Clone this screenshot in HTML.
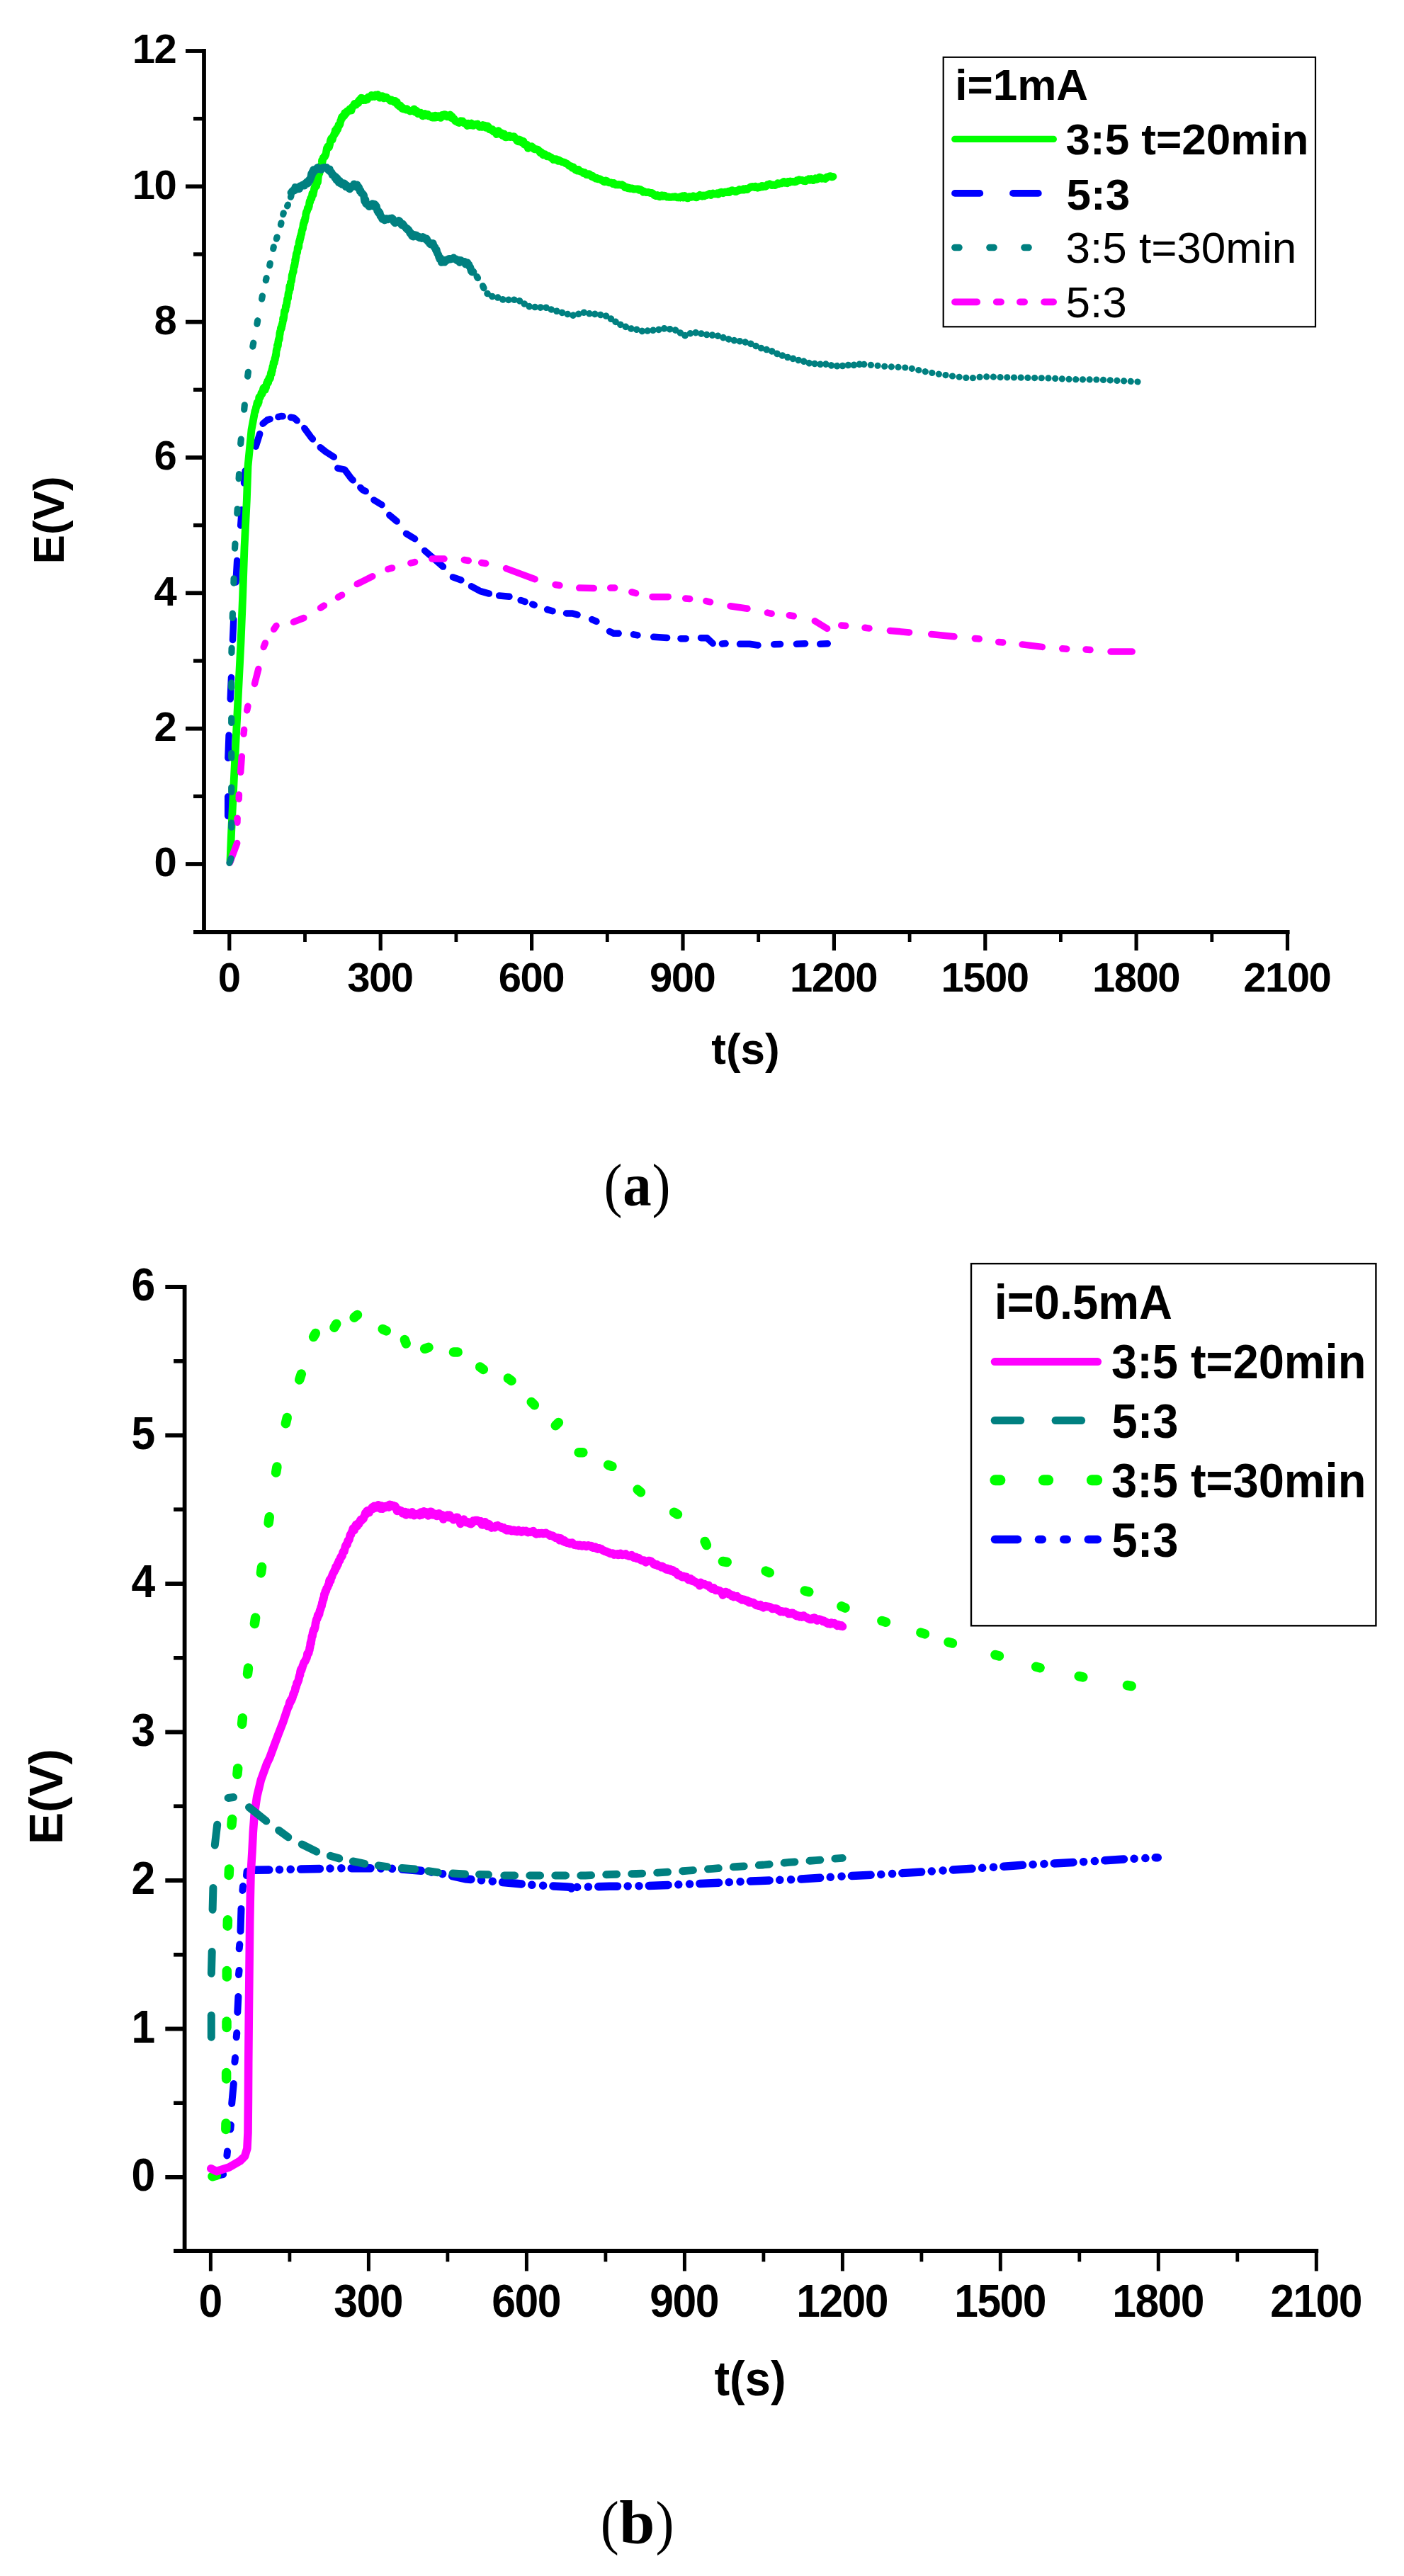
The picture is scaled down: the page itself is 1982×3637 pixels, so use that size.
<!DOCTYPE html>
<html><head><meta charset="utf-8"><title>E(V) vs t(s)</title>
<style>html,body{margin:0;padding:0;background:#fff}svg{display:block}</style></head>
<body>
<svg width="1982" height="3637" viewBox="0 0 1982 3637">
<rect width="1982" height="3637" fill="#fff"/>
<g id="chart-a">
<g id="curves-a">
<line x1="321.7" y1="1152" x2="321.7" y2="1124.8" stroke="#0000ff" stroke-width="9.5" stroke-linecap="round"/>
<line x1="321.9" y1="1070.3" x2="323.1" y2="1038" stroke="#0000ff" stroke-width="9.5" stroke-linecap="round"/>
<line x1="325.2" y1="987" x2="326.5" y2="956.4" stroke="#0000ff" stroke-width="9.5" stroke-linecap="round"/>
<line x1="328.5" y1="903.6" x2="329.8" y2="874.7" stroke="#0000ff" stroke-width="9.5" stroke-linecap="round"/>
<line x1="333" y1="822" x2="334.7" y2="791.4" stroke="#0000ff" stroke-width="9.5" stroke-linecap="round"/>
<line x1="339.7" y1="742" x2="341.3" y2="719.7" stroke="#0000ff" stroke-width="9.5" stroke-linecap="round"/>
<line x1="344.5" y1="682" x2="346.2" y2="664.7" stroke="#0000ff" stroke-width="9.5" stroke-linecap="round"/>
<line x1="361.1" y1="630.3" x2="366.7" y2="612.5" stroke="#0000ff" stroke-width="9.5" stroke-linecap="round"/>
<path d="M371.1 598.2 L377.4 592.9 L381.2 591.8" fill="none" stroke="#0000ff" stroke-width="9.5" stroke-linecap="round" stroke-linejoin="round"/>
<path d="M392.9 588.6 L396.8 587.5 L399.2 587.8" fill="none" stroke="#0000ff" stroke-width="9.5" stroke-linecap="round" stroke-linejoin="round"/>
<path d="M410.4 589.3 L414.8 589.9 L419.2 593.8" fill="none" stroke="#0000ff" stroke-width="9.5" stroke-linecap="round" stroke-linejoin="round"/>
<path d="M429.8 604.6 L438.7 616.8 L441.4 619.9" fill="none" stroke="#0000ff" stroke-width="9.5" stroke-linecap="round" stroke-linejoin="round"/>
<path d="M452.2 631.8 L459.7 637.8 L471.4 645.2" fill="none" stroke="#0000ff" stroke-width="9.5" stroke-linecap="round" stroke-linejoin="round"/>
<path d="M476.8 661.1 L486.6 663.2 L495.5 675.2 L498.2 677.9" fill="none" stroke="#0000ff" stroke-width="9.5" stroke-linecap="round" stroke-linejoin="round"/>
<path d="M508.8 688.4 L512 691.6 L516.2 693.6" fill="none" stroke="#0000ff" stroke-width="9.5" stroke-linecap="round" stroke-linejoin="round"/>
<path d="M527.9 706 L539 712.8" fill="none" stroke="#0000ff" stroke-width="9.5" stroke-linecap="round" stroke-linejoin="round"/>
<path d="M549.8 727.3 L560.2 736" fill="none" stroke="#0000ff" stroke-width="9.5" stroke-linecap="round" stroke-linejoin="round"/>
<path d="M573.5 753.4 L585.6 760.8" fill="none" stroke="#0000ff" stroke-width="9.5" stroke-linecap="round" stroke-linejoin="round"/>
<path d="M599.6 777.5 L625.5 800.1" fill="none" stroke="#0000ff" stroke-width="9.5" stroke-linecap="round" stroke-linejoin="round"/>
<path d="M639.4 814.9 L650.9 819" fill="none" stroke="#0000ff" stroke-width="9.5" stroke-linecap="round" stroke-linejoin="round"/>
<path d="M665.5 827.8 L678 834.6 L690.4 838.1" fill="none" stroke="#0000ff" stroke-width="9.5" stroke-linecap="round" stroke-linejoin="round"/>
<path d="M704.6 840.9 L719 842.3" fill="none" stroke="#0000ff" stroke-width="9.5" stroke-linecap="round" stroke-linejoin="round"/>
<path d="M735.1 847.6 L741.2 849.6" fill="none" stroke="#0000ff" stroke-width="9.5" stroke-linecap="round" stroke-linejoin="round"/>
<path d="M751.7 853.2 L754.2 854.2" fill="none" stroke="#0000ff" stroke-width="9.5" stroke-linecap="round" stroke-linejoin="round"/>
<path d="M772.6 860.6 L780.1 862.7" fill="none" stroke="#0000ff" stroke-width="9.5" stroke-linecap="round" stroke-linejoin="round"/>
<path d="M799.5 866 L808 866 L815.1 868" fill="none" stroke="#0000ff" stroke-width="9.5" stroke-linecap="round" stroke-linejoin="round"/>
<path d="M835.6 874.6 L842 877.4" fill="none" stroke="#0000ff" stroke-width="9.5" stroke-linecap="round" stroke-linejoin="round"/>
<path d="M860.5 891.4 L866.3 894.3 L873.2 894.3" fill="none" stroke="#0000ff" stroke-width="9.5" stroke-linecap="round" stroke-linejoin="round"/>
<path d="M894.4 895.8 L900 896.9" fill="none" stroke="#0000ff" stroke-width="9.5" stroke-linecap="round" stroke-linejoin="round"/>
<path d="M922.7 899.3 L941.6 900.4" fill="none" stroke="#0000ff" stroke-width="9.5" stroke-linecap="round" stroke-linejoin="round"/>
<path d="M961 901.7 L968.2 901.7" fill="none" stroke="#0000ff" stroke-width="9.5" stroke-linecap="round" stroke-linejoin="round"/>
<path d="M989.5 900.7 L998 900.7 L1006.2 908.4" fill="none" stroke="#0000ff" stroke-width="9.5" stroke-linecap="round" stroke-linejoin="round"/>
<path d="M1019.4 908.9 L1024.1 908.6" fill="none" stroke="#0000ff" stroke-width="9.5" stroke-linecap="round" stroke-linejoin="round"/>
<path d="M1044.5 909.3 L1058 909.3 L1070 911" fill="none" stroke="#0000ff" stroke-width="9.5" stroke-linecap="round" stroke-linejoin="round"/>
<path d="M1092.7 909.8 L1101.6 909.5" fill="none" stroke="#0000ff" stroke-width="9.5" stroke-linecap="round" stroke-linejoin="round"/>
<path d="M1124.4 909.2 L1136.6 908.8" fill="none" stroke="#0000ff" stroke-width="9.5" stroke-linecap="round" stroke-linejoin="round"/>
<path d="M1157.7 909.2 L1168.3 908.8" fill="none" stroke="#0000ff" stroke-width="9.5" stroke-linecap="round" stroke-linejoin="round"/>
<path d="M325 1215 L326.7 1173.3 L330 1106.7 L333.3 1040 L336.7 973.3 L340 906.7 L342.7 840 L345 773.3 L348.3 706.7 L350 658.3 L355 606.7 L360 580 L360.5 580.7 L361 577.9 L361.6 574.3 L362.1 574.4 L362.6 570.7 L363.1 568.4 L363.6 569.8 L364.1 570.9 L364.7 568.6 L365.2 567.8 L365.7 561.3 L366.2 560.2 L366.7 560.1 L367.3 561 L367.8 559.4 L368.3 558 L369 554.7 L369.8 556.4 L370.5 554.7 L371.2 550.8 L372 547.7 L372.7 547.5 L373.4 546.5 L374.2 550.4 L374.9 547.6 L375.6 547.1 L376.4 541.4 L377.1 542.2 L377.8 538 L378.6 540.3 L379.3 535.8 L380 533.4 L380.8 535.3 L381.5 533.8 L381.9 530.5 L382.2 528 L382.6 526.2 L382.9 525.1 L383.3 527.7 L383.6 524.3 L384 521.6 L384.4 523.1 L384.7 518.8 L385.1 517 L385.4 518.3 L385.8 515.3 L386.1 512.3 L386.5 511.1 L386.9 510.4 L387.2 512.3 L387.6 510.1 L387.9 506.3 L388.3 507.8 L388.6 504 L389 504.3 L389.3 500.6 L389.6 502 L389.8 499.1 L390.1 495.2 L390.4 493.9 L390.7 492.6 L391 493 L391.3 490 L391.5 487.4 L391.8 488.1 L392.1 487.7 L392.4 488.2 L392.7 482.8 L393 482.1 L393.2 479.6 L393.5 479.8 L393.8 477.9 L394.1 479.4 L394.4 477.6 L394.7 473.1 L394.9 470 L395.2 471.5 L395.5 467.5 L395.8 467.6 L396.1 465.8 L396.5 462.9 L396.8 464.4 L397.1 464 L397.4 463.2 L397.7 459.7 L398.1 460.3 L398.4 457.1 L398.7 457.3 L399 455.2 L399.3 453.3 L399.7 449 L400 451.4 L400.3 449.8 L400.6 448.4 L400.9 445.4 L401.3 441.5 L401.6 438.9 L401.9 439.4 L402.2 439.8 L402.5 438.5 L402.9 438.2 L403.2 435.3 L403.5 431.8 L403.8 432.1 L404.1 432.5 L404.4 430.5 L404.7 427.6 L405 428.2 L405.3 424.7 L405.6 422.2 L405.9 421.3 L406.2 421.8 L406.5 421.6 L406.8 416.5 L407.1 414.3 L407.4 413.3 L407.7 412.4 L408 413 L408.3 410.2 L408.6 406.1 L408.9 403.8 L409.2 404.7 L409.5 407.7 L409.8 402.8 L410.1 402.9 L410.4 398.4 L410.7 398.4 L411 397.5 L411.3 397.1 L411.6 395.4 L411.9 392.7 L412.2 388.4 L412.5 389.6 L412.8 386.8 L413 387.1 L413.3 385.8 L413.6 383.2 L413.9 384 L414.2 383.5 L414.5 378.2 L414.8 378 L415.1 375.6 L415.4 376.5 L415.7 376.1 L416 373.6 L416.3 372.1 L416.5 370.2 L416.8 366.3 L417.1 368 L417.4 365.3 L417.7 362.3 L418 363.1 L418.3 358.4 L418.6 358.2 L419 356.9 L419.3 357.1 L419.6 356.2 L420 352.5 L420.3 349.3 L420.7 349.1 L421 349.8 L421.3 349.7 L421.7 348.7 L422 343.6 L422.3 341.2 L422.7 341.2 L423 341.3 L423.3 337.7 L423.7 338.2 L424 334.1 L424.3 335.7 L424.7 333.2 L425 331.2 L425.4 329.9 L425.7 330.4 L426 326.7 L426.4 325.2 L426.7 324.5 L427.1 322.4 L427.5 323 L427.9 318.6 L428.3 315.4 L428.7 316.9 L429.1 314.7 L429.5 311.5 L429.9 313.3 L430.3 312.2 L430.7 307.8 L431.1 307.9 L431.5 305.2 L431.9 302 L432.3 300.1 L432.7 299.1 L433.1 299.2 L433.5 297.5 L433.9 296.8 L434.3 293.9 L434.7 294.2 L435.1 294.4 L435.5 293.6 L435.9 291.8 L436.3 291 L436.7 286.7 L437.2 283.8 L437.8 285.4 L438.3 281.7 L438.8 279.5 L439.3 280.9 L439.9 280.2 L440.4 277 L440.9 273 L441.4 274.1 L442 275.1 L442.5 272.1 L443 270.2 L443.5 266.9 L444.1 264.5 L444.6 265 L445.1 264.4 L445.6 261.2 L446.2 262.6 L446.7 262.6 L447.1 257.2 L447.4 256.4 L447.8 254.5 L448.1 253.9 L448.5 257.3 L448.9 253.2 L449.2 250.3 L449.6 248.1 L449.9 245.1 L450.3 242.4 L450.7 244.5 L451 244.7 L451.4 241.4 L451.8 239.8 L452.1 239.9 L452.5 239.5 L452.8 237.8 L453.2 234.3 L453.6 234.6 L453.9 233.2 L454.3 229.8 L454.6 226 L455 228.9 L455.6 225.7 L456.2 222.7 L456.8 223 L457.4 222.2 L457.9 220.3 L458.5 221.2 L459.1 219.1 L459.7 218.9 L460.3 216 L460.9 212.3 L461.5 209 L462.1 208.6 L462.6 207 L463.2 207 L463.8 208.3 L464.4 208.1 L465 206.1 L465.7 203.4 L466.4 198.7 L467.1 196.8 L467.8 195.3 L468.4 196.1 L469.1 197.3 L469.8 194.6 L470.5 192 L471.2 191.6 L471.9 188.7 L472.6 189.6 L473.3 184 L473.9 185.8 L474.6 186.3 L475.3 181.2 L476 183.1 L476.7 182.7 L477.4 179.5 L478 176.3 L478.7 177.9 L479.4 175.2 L480 175.2 L480.7 170.6 L481.4 170 L482 166.8 L482.7 165.1 L483.4 166.5 L484 164.1 L484.7 163.1 L485.4 162.5 L486 163.6 L486.7 159.4 L487.9 161 L489 159.6 L490.2 156.8 L491.3 156.8 L492.5 156.6 L493.7 153.7 L494.8 156.2 L496 156 L497.1 151.2 L498.3 150.8 L499.4 148.3 L500.4 146.5 L501.5 148.4 L502.6 148.1 L503.6 146.5 L504.7 144.5 L505.7 145.7 L506.8 141.7 L507.9 142.3 L508.9 139.6 L510 138.2 L511.4 138.5 L512.9 141.6 L514.3 140.3 L515.7 141.6 L517.1 139 L518.6 140.6 L520 136.8 L521.5 137.3 L522.9 136.2 L524.4 134.4 L525.9 136.6 L527.3 135.2 L528.8 136.5 L530.2 133.8 L531.7 135.6 L533.2 133.5 L534.6 135.3 L536 138.1 L537.5 136.6 L539 135.6 L540.4 135.9 L541.8 138.8 L543.3 137.2 L544.6 137.2 L546 137.7 L547.3 139.1 L548.7 139.9 L550 140.7 L551.3 142.4 L552.7 140.9 L554 142 L555.4 143 L556.7 144.2 L557.9 142.3 L559.1 145.9 L560.3 144.1 L561.5 148.3 L562.7 149 L564 150.4 L565.2 148.9 L566.4 151.7 L567.6 153.3 L568.8 152.2 L570 154.1 L571.5 154 L573 154.9 L574.4 153.8 L575.9 154.9 L577.4 156.1 L578.9 157.1 L580.3 156.3 L581.8 156.5 L583.3 155.2 L584.6 153.9 L586 158.3 L587.3 156 L588.7 157 L590 160.7 L591.3 159 L592.7 160.6 L594 159.2 L595.4 160.6 L596.7 163.9 L598.2 160.8 L599.7 160.5 L601.1 163.1 L602.6 161.6 L604.1 161.5 L605.6 164.1 L607 164.1 L608.5 163.9 L610 166 L611.5 163.8 L613.1 166.2 L614.6 163.1 L616.2 165.8 L617.7 163.8 L619.2 163.7 L620.8 166.1 L622.3 166.3 L623.8 162.5 L625.4 164.1 L626.9 161.7 L628.5 161.6 L630 164.4 L631.4 164.8 L632.8 163.4 L634.2 162.7 L635.6 162 L637 166.6 L638.4 164.6 L639.7 167.5 L641.1 167.7 L642.5 170.6 L643.9 171.5 L645.3 171.9 L646.7 173 L648 173.5 L649.2 172.7 L650.5 170.9 L651.7 171.5 L653 171 L654.2 173.4 L655.5 174.1 L656.7 173.6 L658.2 175 L659.6 177.5 L661.1 174.1 L662.5 176.6 L664 176.8 L665.4 174 L666.9 177.2 L668.4 177.4 L669.8 176.2 L671.3 175.5 L672.7 175.7 L674.2 175.1 L675.6 177.5 L677.1 179.4 L678.5 179 L680 179.4 L681.4 176.5 L682.8 178.6 L684.2 177.1 L685.6 180.3 L687 177.9 L688.4 177.8 L689.7 179.4 L691.1 182.9 L692.5 182.4 L693.9 183.9 L695.3 182.7 L696.7 186 L698.1 184.9 L699.5 186.5 L700.9 189.6 L702.2 185.7 L703.6 184.6 L705 186.8 L706.4 189.6 L707.8 187.6 L709.1 191.3 L710.5 190.1 L711.9 189.1 L713.3 193.6 L714.7 193.9 L716.1 191.6 L717.5 193.3 L718.9 191.3 L720.3 193.5 L721.6 193.2 L723 193.5 L724.4 192.7 L725.8 192.7 L727.2 195.1 L728.6 196.3 L730 198.8 L731.3 199.8 L732.6 197 L733.9 197.4 L735.1 197.7 L736.4 201.3 L737.7 201.6 L739 199.5 L740.3 204.2 L741.6 204.6 L742.9 205.2 L744.1 204.4 L745.4 209.4 L746.7 206.4 L748 206.7 L749.3 207.9 L750.7 206.9 L752 207.9 L753.3 210 L754.7 210.8 L756 210.4 L757.3 210.8 L758.7 211.1 L760 211.8 L761.3 213.3 L762.7 215.8 L764 214.9 L765.3 216.4 L766.7 218.9 L768 217.6 L769.4 217.6 L770.9 219.4 L772.3 220.7 L773.7 219.9 L775.1 220.7 L776.6 222 L778 222.2 L779.4 223.7 L780.9 225.3 L782.3 224.4 L783.7 225.5 L785.1 224.6 L786.6 225.4 L788 227.4 L789.3 226.2 L790.7 227.4 L792 227.6 L793.3 228.7 L794.7 228.6 L796 229.2 L797.3 229.5 L798.7 230.9 L800 231 L801.3 231.9 L802.7 233.4 L804 234.4 L805.3 234.3 L806.7 235.2 L808 237.2 L809.4 236 L810.9 238.2 L812.3 239.9 L813.7 239.2 L815.1 241.2 L816.6 239.4 L818 241.4 L819.4 242.1 L820.9 242.3 L822.3 243.1 L823.7 244.7 L825.1 243.3 L826.6 245.4 L828 246.7 L829.4 246.8 L830.9 245.7 L832.3 245.9 L833.7 247.6 L835.1 249.2 L836.6 248.2 L838 250.5 L839.4 250.6 L840.9 252 L842.3 251.3 L843.7 252.8 L845.1 252.8 L846.6 252.6 L848 253.4 L849.4 254.5 L850.9 255.4 L852.3 256.4 L853.7 256.7 L855.1 255 L856.6 255.4 L858 256.9 L859.4 257.6 L860.9 257.9 L862.3 257.9 L863.7 258.2 L865.1 259.5 L866.6 258.4 L868 260.2 L869.4 260.9 L870.9 260.5 L872.3 261 L873.7 260.4 L875.1 261 L876.6 261.3 L878 260.7 L879.4 261.6 L880.9 262.6 L882.3 264.6 L883.7 264.9 L885.1 264.5 L886.6 265.8 L888 265.3 L889.4 266.4 L890.9 266.2 L892.3 265.9 L893.7 266.9 L895.1 267.1 L896.6 266.8 L898 266.8 L899.4 267.2 L900.9 266.9 L902.3 268.2 L903.7 267.5 L905.1 268.1 L906.6 269.5 L908 271.1 L909.4 270.3 L910.9 271.2 L912.3 271.7 L913.7 271.6 L915.1 271.4 L916.6 271.9 L918 272.5 L919.4 272.3 L920.9 272.7 L922.3 274 L923.7 275.6 L925.1 276.4 L926.6 276.7 L928 275.3 L929.5 276.9 L931.1 277.8 L932.6 276.4 L934.2 275.7 L935.7 277.2 L937.2 276.2 L938.8 276.4 L940.3 277.4 L941.8 278.2 L943.4 277.8 L944.9 278.4 L946.5 278.3 L948 278.3 L949.5 278 L951.1 278.2 L952.6 277.6 L954.2 278 L955.7 278.8 L957.2 279 L958.8 278.3 L960.3 279.1 L961.8 277.5 L963.4 276.8 L964.9 279.2 L966.5 276.5 L968 278 L969.5 279.5 L971.1 279.9 L972.6 277.7 L974.2 277.7 L975.7 278.4 L977.2 277.9 L978.8 276.8 L980.3 277.4 L981.8 278.7 L983.4 278.9 L984.9 277 L986.5 277.1 L988 275.3 L989.5 276 L991.1 277.1 L992.6 275.9 L994.2 276.9 L995.7 276 L997.2 275.9 L998.8 275 L1000.3 274.6 L1001.8 273.6 L1003.4 275.5 L1004.9 274 L1006.5 272.9 L1008 273.9 L1009.4 273.9 L1010.9 273.8 L1012.3 272.8 L1013.7 274.4 L1015.1 273.3 L1016.6 271.8 L1018 271.2 L1019.4 271.3 L1020.9 272.9 L1022.3 271.5 L1023.7 271 L1025.1 271.5 L1026.6 271.6 L1028 270.2 L1029.4 271.7 L1030.9 269.7 L1032.3 269.1 L1033.7 268.6 L1035.1 269.5 L1036.6 269.5 L1038 270.5 L1039.4 270.6 L1040.9 269 L1042.3 269.1 L1043.7 267.5 L1045.1 268.3 L1046.6 268.2 L1048 268.2 L1049.4 266.8 L1050.9 267.9 L1052.3 266.6 L1053.7 267.6 L1055.1 267.6 L1056.6 265.8 L1058 265.4 L1059.4 264 L1060.9 264.1 L1062.3 263.4 L1063.7 263.8 L1065.1 264.5 L1066.6 263.2 L1068 264.7 L1069.5 265.3 L1071.1 263.7 L1072.6 264.6 L1074.2 263.7 L1075.7 262.3 L1077.2 263.7 L1078.8 263.1 L1080.3 263.4 L1081.8 262.8 L1083.4 260.6 L1084.9 260.6 L1086.5 259.7 L1088 260.5 L1089.4 261.6 L1090.9 260.9 L1092.3 261.4 L1093.7 261.6 L1095.1 261.1 L1096.6 260.3 L1098 258.6 L1099.4 259.6 L1100.9 258.9 L1102.3 259 L1103.7 258.8 L1105.1 257.4 L1106.6 256.3 L1108 258.3 L1109.5 257.8 L1111.1 258.6 L1112.6 256.4 L1114.2 257.5 L1115.7 255.9 L1117.2 256.5 L1118.8 256.4 L1120.3 256.7 L1121.8 256.8 L1123.4 256.7 L1124.9 254.8 L1126.5 255.3 L1128 253.8 L1129.5 254.2 L1131.1 254.6 L1132.6 254.5 L1134.2 255.5 L1135.7 255.7 L1137.2 255.8 L1138.8 253.9 L1140.3 254.1 L1141.8 252.7 L1143.4 254.4 L1144.9 252.5 L1146.5 253.6 L1148 254.5 L1149.5 252.9 L1151 251.9 L1152.6 253.4 L1154.1 252.9 L1155.6 251.2 L1157.1 250.1 L1158.6 250.8 L1160.1 252.3 L1161.7 252 L1163.2 252 L1164.7 252.6 L1166.1 251.7 L1167.5 249.8 L1168.9 249.9 L1170.3 249.1 L1171.8 248.6 L1173.2 248.8 L1174.6 249.9 L1176 249.5" fill="none" stroke="#00ff00" stroke-width="10.8" stroke-linecap="round" stroke-linejoin="round"/>
<line x1="324.4" y1="1218" x2="334.7" y2="1190.5" stroke="#ff00ff" stroke-width="9.5" stroke-linecap="round"/>
<line x1="334.9" y1="1161.3" x2="335.1" y2="1155.3" stroke="#ff00ff" stroke-width="9.5" stroke-linecap="round"/>
<line x1="337.2" y1="1128" x2="337.4" y2="1122" stroke="#ff00ff" stroke-width="9.5" stroke-linecap="round"/>
<line x1="339.7" y1="1090.3" x2="341.3" y2="1068" stroke="#ff00ff" stroke-width="9.5" stroke-linecap="round"/>
<line x1="344" y1="1036.3" x2="344.6" y2="1030.3" stroke="#ff00ff" stroke-width="9.5" stroke-linecap="round"/>
<line x1="348.7" y1="1002.9" x2="349.9" y2="997.1" stroke="#ff00ff" stroke-width="9.5" stroke-linecap="round"/>
<line x1="359.5" y1="965.4" x2="364.8" y2="944.6" stroke="#ff00ff" stroke-width="9.5" stroke-linecap="round"/>
<line x1="372.2" y1="913.5" x2="374.4" y2="907.9" stroke="#ff00ff" stroke-width="9.5" stroke-linecap="round"/>
<line x1="386.6" y1="888.4" x2="390" y2="883.6" stroke="#ff00ff" stroke-width="9.5" stroke-linecap="round"/>
<line x1="414.4" y1="878.2" x2="428.9" y2="872.5" stroke="#ff00ff" stroke-width="9.5" stroke-linecap="round"/>
<line x1="452.5" y1="858.3" x2="457.5" y2="855.1" stroke="#ff00ff" stroke-width="9.5" stroke-linecap="round"/>
<line x1="477.4" y1="843.2" x2="482.6" y2="840.2" stroke="#ff00ff" stroke-width="9.5" stroke-linecap="round"/>
<line x1="504.2" y1="824.6" x2="525.8" y2="813.8" stroke="#ff00ff" stroke-width="9.5" stroke-linecap="round"/>
<line x1="547.8" y1="803.5" x2="553.6" y2="801.9" stroke="#ff00ff" stroke-width="9.5" stroke-linecap="round"/>
<line x1="579.8" y1="795" x2="585.6" y2="793.6" stroke="#ff00ff" stroke-width="9.5" stroke-linecap="round"/>
<line x1="609.8" y1="789" x2="627" y2="789" stroke="#ff00ff" stroke-width="9.5" stroke-linecap="round"/>
<line x1="655.3" y1="790.5" x2="661.3" y2="791.5" stroke="#ff00ff" stroke-width="9.5" stroke-linecap="round"/>
<line x1="679.7" y1="794.5" x2="685.7" y2="795.5" stroke="#ff00ff" stroke-width="9.5" stroke-linecap="round"/>
<line x1="714.5" y1="802.6" x2="755.2" y2="817.7" stroke="#ff00ff" stroke-width="9.5" stroke-linecap="round"/>
<line x1="784" y1="825.5" x2="790" y2="826.5" stroke="#ff00ff" stroke-width="9.5" stroke-linecap="round"/>
<line x1="817.7" y1="830.1" x2="838.3" y2="830.6" stroke="#ff00ff" stroke-width="9.5" stroke-linecap="round"/>
<line x1="861.7" y1="830.1" x2="867.7" y2="829.9" stroke="#ff00ff" stroke-width="9.5" stroke-linecap="round"/>
<line x1="891.8" y1="835.9" x2="897.6" y2="837.5" stroke="#ff00ff" stroke-width="9.5" stroke-linecap="round"/>
<line x1="921" y1="842.7" x2="943.2" y2="842.7" stroke="#ff00ff" stroke-width="9.5" stroke-linecap="round"/>
<line x1="967.7" y1="845" x2="973.7" y2="845.6" stroke="#ff00ff" stroke-width="9.5" stroke-linecap="round"/>
<line x1="996.8" y1="848.6" x2="1002.6" y2="850" stroke="#ff00ff" stroke-width="9.5" stroke-linecap="round"/>
<line x1="1031" y1="855.7" x2="1055" y2="859.3" stroke="#ff00ff" stroke-width="9.5" stroke-linecap="round"/>
<line x1="1083.4" y1="865.1" x2="1089.2" y2="866.3" stroke="#ff00ff" stroke-width="9.5" stroke-linecap="round"/>
<line x1="1114.3" y1="868.8" x2="1120.3" y2="869.8" stroke="#ff00ff" stroke-width="9.5" stroke-linecap="round"/>
<line x1="1150.3" y1="876.8" x2="1167.7" y2="887.5" stroke="#ff00ff" stroke-width="9.5" stroke-linecap="round"/>
<line x1="1187.7" y1="883" x2="1193.7" y2="883.6" stroke="#ff00ff" stroke-width="9.5" stroke-linecap="round"/>
<line x1="1221" y1="886.3" x2="1227" y2="887.1" stroke="#ff00ff" stroke-width="9.5" stroke-linecap="round"/>
<line x1="1256.4" y1="890.4" x2="1283.6" y2="892.9" stroke="#ff00ff" stroke-width="9.5" stroke-linecap="round"/>
<line x1="1314.7" y1="895.5" x2="1347" y2="898.8" stroke="#ff00ff" stroke-width="9.5" stroke-linecap="round"/>
<line x1="1376.3" y1="901.4" x2="1382.3" y2="902" stroke="#ff00ff" stroke-width="9.5" stroke-linecap="round"/>
<line x1="1409.7" y1="906.4" x2="1415.7" y2="907" stroke="#ff00ff" stroke-width="9.5" stroke-linecap="round"/>
<line x1="1443" y1="909.9" x2="1471.3" y2="913.4" stroke="#ff00ff" stroke-width="9.5" stroke-linecap="round"/>
<line x1="1499.7" y1="915.8" x2="1505.7" y2="916.2" stroke="#ff00ff" stroke-width="9.5" stroke-linecap="round"/>
<line x1="1533" y1="917" x2="1539" y2="917.6" stroke="#ff00ff" stroke-width="9.5" stroke-linecap="round"/>
<line x1="1568" y1="920" x2="1598.2" y2="920" stroke="#ff00ff" stroke-width="9.5" stroke-linecap="round"/>
<line x1="326.7" y1="1168.2" x2="326.7" y2="1161.8" stroke="#008080" stroke-width="9.2" stroke-linecap="round"/>
<line x1="326.7" y1="1118.2" x2="326.7" y2="1111.8" stroke="#008080" stroke-width="9.2" stroke-linecap="round"/>
<line x1="326.7" y1="1070" x2="326.7" y2="1063.5" stroke="#008080" stroke-width="9.2" stroke-linecap="round"/>
<line x1="326.7" y1="1020.5" x2="326.7" y2="1014" stroke="#008080" stroke-width="9.2" stroke-linecap="round"/>
<line x1="326.7" y1="970.5" x2="326.7" y2="964.1" stroke="#008080" stroke-width="9.2" stroke-linecap="round"/>
<line x1="326.9" y1="921.5" x2="327.1" y2="915.1" stroke="#008080" stroke-width="9.2" stroke-linecap="round"/>
<line x1="328.2" y1="872.5" x2="328.4" y2="866.1" stroke="#008080" stroke-width="9.2" stroke-linecap="round"/>
<line x1="329.9" y1="823.2" x2="330.1" y2="816.8" stroke="#008080" stroke-width="9.2" stroke-linecap="round"/>
<line x1="331.5" y1="774.2" x2="331.9" y2="767.8" stroke="#008080" stroke-width="9.2" stroke-linecap="round"/>
<line x1="334.8" y1="724.9" x2="335.2" y2="718.5" stroke="#008080" stroke-width="9.2" stroke-linecap="round"/>
<line x1="337.1" y1="675.9" x2="337.5" y2="669.5" stroke="#008080" stroke-width="9.2" stroke-linecap="round"/>
<line x1="339.7" y1="626.5" x2="340.3" y2="620.1" stroke="#008080" stroke-width="9.2" stroke-linecap="round"/>
<line x1="344.7" y1="578.2" x2="345.3" y2="571.8" stroke="#008080" stroke-width="9.2" stroke-linecap="round"/>
<line x1="349.6" y1="531.3" x2="350.4" y2="525.3" stroke="#008080" stroke-width="9.2" stroke-linecap="round"/>
<line x1="356.8" y1="489.2" x2="357.8" y2="484.2" stroke="#008080" stroke-width="9.2" stroke-linecap="round"/>
<line x1="362.9" y1="457.3" x2="363.7" y2="452.7" stroke="#008080" stroke-width="9.2" stroke-linecap="round"/>
<line x1="369.6" y1="422.1" x2="370.4" y2="417.9" stroke="#008080" stroke-width="9.2" stroke-linecap="round"/>
<line x1="375.3" y1="395.9" x2="376.1" y2="392.7" stroke="#008080" stroke-width="9.2" stroke-linecap="round"/>
<line x1="380.7" y1="374.8" x2="381.3" y2="371.8" stroke="#008080" stroke-width="9.2" stroke-linecap="round"/>
<line x1="385.7" y1="351.3" x2="386.3" y2="348.7" stroke="#008080" stroke-width="9.2" stroke-linecap="round"/>
<line x1="390.3" y1="337.2" x2="391.1" y2="334.8" stroke="#008080" stroke-width="9.2" stroke-linecap="round"/>
<line x1="396.4" y1="317.2" x2="397" y2="314.8" stroke="#008080" stroke-width="9.2" stroke-linecap="round"/>
<line x1="399.7" y1="302.6" x2="400.3" y2="300.8" stroke="#008080" stroke-width="9.2" stroke-linecap="round"/>
<line x1="405.6" y1="290.8" x2="406.4" y2="289.2" stroke="#008080" stroke-width="9.2" stroke-linecap="round"/>
<line x1="410.4" y1="278.2" x2="411" y2="276.4" stroke="#008080" stroke-width="9.2" stroke-linecap="round"/>
<line x1="323.9" y1="1218.3" x2="326.1" y2="1212" stroke="#008080" stroke-width="9.2" stroke-linecap="round"/>
<path d="M411 272 L411.5 271.8 L412.1 270.6 L412.6 269.9 L414 268.8 L415.4 269.1 L416.8 264.5 L418.3 264.8 L419.7 267 L421.1 266 L422.5 266.7 L423.9 262.7 L425.4 262.7 L426.8 261.3 L428.2 262 L429.7 262.1 L431.1 259 L432.1 257.9 L433.1 257 L434.1 259.1 L435.2 258.3 L436.2 254.2 L437.2 255.1 L438.2 251.4 L438.7 251.5 L439.2 248.1 L439.6 245.4 L440.1 247.8 L440.6 244.4 L441.1 242.4 L441.5 244.5 L442 243.8 L442.5 239.7 L443.9 241.5 L445.4 239.7 L446.8 239.3 L448.2 236.5 L449.6 238.7 L451.1 237.9 L452.5 238.6 L453.9 239.3 L455.3 237 L456.8 236.9 L458.2 236.3 L459.6 236.4 L461 236.5 L462.5 238.1 L463.9 240.6 L465.3 238.8 L466.2 242.5 L467.2 242.8 L468.1 243.5 L469.1 247 L470 247.2 L471 247.2 L471.9 248.7 L472.9 251.1 L473.8 249.4 L474.9 254.1 L476 251.7 L477.1 255.3 L478.2 257.7 L479.4 255.1 L480.5 258.8 L481.6 258.7 L482.7 260.4 L483.8 258.9 L485.2 258.6 L486.6 259.3 L488.1 263.7 L489.5 261.7 L490.9 264 L492.4 265.9 L493.8 266.9 L495.2 264.5 L496.4 262.9 L497.6 262.7 L498.8 263.4 L499.9 259.8 L501.1 261.3 L502.3 261.6 L503.2 263.5 L504 260.8 L504.9 265.1 L505.7 263.2 L506.6 264.5 L507.4 267.1 L508.3 270.3 L509.1 269.3 L510 272.6 L510.6 272.9 L511.2 272.7 L511.8 273.6 L512.4 274.1 L513 274.7 L513.6 276.1 L514.1 280.2 L514.7 284.1 L515.3 282.2 L515.9 281.9 L516.5 287.4 L517.1 287.9 L517.7 288.4 L518.3 288.6 L519.8 290 L521.2 291.6 L522.7 290.3 L524.1 289.7 L525.6 287.7 L527.1 291.3 L528.5 288.1 L530 289.3 L530.7 292.8 L531.4 291.4 L532.1 294.9 L532.8 298.1 L533.5 298.5 L534.1 300.3 L534.8 298.5 L535.5 300.4 L536.2 300.5 L536.9 304.9 L537.6 304.6 L538.3 306.2 L539.8 309.4 L541.3 309.9 L542.8 311 L544.3 308.9 L545.8 308.6 L547.3 309.9 L548.8 309.3 L550.3 308.4 L551.8 308.9 L553.3 308 L554.7 309.2 L556.1 313.1 L557.5 314.7 L558.9 313.9 L560.3 313.4 L561.6 312.7 L563 311.6 L564.4 312.5 L565.8 315.8 L567.2 317.7 L568.6 316.2 L570 318.1 L571 319.8 L571.9 320.7 L572.9 321.6 L573.8 323.2 L574.8 322.6 L575.7 324.8 L576.6 324.3 L577.6 325.9 L578.5 328.6 L579.5 329.9 L580.4 329.2 L581.4 333 L582.3 333.6 L583.3 334.2 L584.8 331.3 L586.3 333.1 L587.9 332.3 L589.4 334.3 L590.9 334 L592.4 335.8 L593.9 335.7 L595.4 336.5 L597 334.6 L598.5 335.5 L600 336.4 L601.1 338.1 L602.2 336.9 L603.3 339.6 L604.4 341.3 L605.5 341.7 L606.6 343.9 L607.8 345.2 L608.9 344.1 L610 344.4 L611.1 343.3 L612.2 346.9 L613.3 349.3 L613.9 348.9 L614.5 350.7 L615.1 352.3 L615.7 353.9 L616.2 352.5 L616.8 356 L617.4 357.1 L618 358.8 L618.6 359 L619.2 361 L619.8 363.4 L620.4 364.4 L620.9 366.1 L621.5 364.1 L622.1 364.9 L622.7 367.5 L623.3 370.4 L624.7 368.5 L626.2 370 L627.6 370.1 L629 367.1 L630.4 368 L631.9 366.9 L633.3 365.5 L634.7 365.3 L636.2 366 L637.6 365.4 L639 365.1 L640.4 364 L641.9 365.7 L643.3 365.7 L644.7 367.4 L646.1 368.3 L647.5 367.2 L648.9 370.5 L650.3 367.5 L651.6 368.9 L653 369 L654.4 370.1 L655.8 369.4 L657.2 373.1 L658.6 372.4 L660 370.9 L660.9 374.2 L661.8 373.6 L662.7 376.3 L663.6 377.1 L664.4 379.3 L665.3 382.7 L666.2 384 L667.1 383.2 L668 384" fill="none" stroke="#008080" stroke-width="10.8" stroke-linecap="round" stroke-linejoin="round"/>
<line x1="673.2" y1="390.5" x2="674.4" y2="392.5" stroke="#008080" stroke-width="9.4" stroke-linecap="round"/>
<line x1="681.6" y1="403.7" x2="683" y2="406.7" stroke="#008080" stroke-width="9.4" stroke-linecap="round"/>
<path d="M688 414.5 L690.6 417 L693.3 417.9 L697.3 419.5 L701.3 419.7 L705.3 420.7 L709.3 422.9 L713.3 423 L717.5 423.4 L721.6 423.3 L725.8 423.2 L730 423.3 L733.6 424.9 L737.2 427.9 L740.8 429.2 L744.4 431.2 L748 433 L752 433.3 L756 433.6 L760 434.5 L764 434 L768 433.4 L772 434.6 L776 437 L780 437.1 L784 438.8 L788 439.8 L792 441.2 L796 441.8 L800 443.2 L804 444.1 L808 445.3 L812.4 444.6 L816.9 443.2 L821.3 441.3 L825.3 441.2 L829.3 442.8 L833.3 442.8 L837.3 442.5 L841.3 443.9 L845.8 444.2 L850.2 444.9 L854.7 445.8 L858 447.2 L861.4 449.2 L864.7 452.2 L868 453.5 L871.4 456.4 L874.7 457.8 L878.9 459.7 L883 461.2 L887.1 462.9 L891.3 464.1 L895.5 464.9 L899.6 465.4 L903.8 466.4 L908 468.1 L912.4 467.5 L916.9 466.1 L921.3 466.4 L925.5 465.7 L929.6 465.5 L933.8 464.4 L938 463.8 L942.2 463.9 L946.4 464.9 L950.5 465.5 L954.7 466.4 L958.6 468.6 L962.4 471.5 L966.3 474.1 L970 472.1 L973.8 471 L977.5 469.7 L981.3 469.3 L985.8 471.1 L990.2 471.1 L994.7 472.7 L998.9 472.5 L1003 472.3 L1007.1 473.7 L1011.3 473.8 L1014.6 474.5 L1018 475.8 L1021.4 476.7 L1024.7 478 L1028.8 478.9 L1033 479.8 L1037.2 480.9 L1041.3 481.4 L1045.3 481.8 L1049.3 482.5 L1053.3 483.3 L1057.3 484.8 L1061.3 485.7 L1065.5 488 L1069.7 489.3 L1073.8 491.1 L1078 493.2 L1082 493.5 L1086 494.5 L1090 496 L1094 498 L1098 499.9 L1102.2 501.6 L1106.3 502.4 L1110.5 504.5 L1114.7 504.5 L1118.8 506.3 L1123 506.7 L1127.2 508.5 L1131.3 508.4 L1135.5 510.6 L1139.7 511.8 L1143.8 513.2 L1148 513.8 L1152.2 513.2 L1156.3 514.4 L1160.5 514.2 L1164.7 513.7 L1168.8 515 L1173 515.8 L1177.2 516.5 L1181.3 516.7 L1185.5 516.2 L1189.7 516.5 L1193.8 516.2 L1198 515.4 L1201.6 515.3 L1205.2 515.4 L1208.8 515.2 L1212.4 514.5 L1216 514" fill="none" stroke="#008080" stroke-width="9.6" stroke-linecap="round" stroke-linejoin="round" stroke-dasharray="0.1 7.9"/>
<path d="M1606 539 L1582.7 537.7 L1549.3 536 L1516 535.7 L1482.7 534 L1449.3 533.3 L1416 532.7 L1389.3 531.7 L1369.3 534 L1349.3 531.7 L1326 528.3 L1302.7 524 L1282.7 519.3 L1249.3 517.3 L1216 514" fill="none" stroke="#008080" stroke-width="9.2" stroke-linecap="round" stroke-linejoin="round" stroke-dasharray="0.1 9.6"/>
</g>
<g id="axes-a">
<line x1="288" y1="69" x2="288" y2="1318.9" stroke="#000" stroke-width="5.8" stroke-linecap="butt"/>
<line x1="273" y1="1316" x2="1820.6" y2="1316" stroke="#000" stroke-width="5.8" stroke-linecap="butt"/>
<line x1="262" y1="1220" x2="288" y2="1220" stroke="#000" stroke-width="5.8" stroke-linecap="butt"/>
<line x1="273" y1="1124.3" x2="288" y2="1124.3" stroke="#000" stroke-width="5.4" stroke-linecap="butt"/>
<line x1="262" y1="1028.7" x2="288" y2="1028.7" stroke="#000" stroke-width="5.8" stroke-linecap="butt"/>
<line x1="273" y1="933" x2="288" y2="933" stroke="#000" stroke-width="5.4" stroke-linecap="butt"/>
<line x1="262" y1="837.3" x2="288" y2="837.3" stroke="#000" stroke-width="5.8" stroke-linecap="butt"/>
<line x1="273" y1="741.6" x2="288" y2="741.6" stroke="#000" stroke-width="5.4" stroke-linecap="butt"/>
<line x1="262" y1="646" x2="288" y2="646" stroke="#000" stroke-width="5.8" stroke-linecap="butt"/>
<line x1="273" y1="550.3" x2="288" y2="550.3" stroke="#000" stroke-width="5.4" stroke-linecap="butt"/>
<line x1="262" y1="454.6" x2="288" y2="454.6" stroke="#000" stroke-width="5.8" stroke-linecap="butt"/>
<line x1="273" y1="359" x2="288" y2="359" stroke="#000" stroke-width="5.4" stroke-linecap="butt"/>
<line x1="262" y1="263.3" x2="288" y2="263.3" stroke="#000" stroke-width="5.8" stroke-linecap="butt"/>
<line x1="273" y1="167.6" x2="288" y2="167.6" stroke="#000" stroke-width="5.4" stroke-linecap="butt"/>
<line x1="262" y1="72" x2="288" y2="72" stroke="#000" stroke-width="5.8" stroke-linecap="butt"/>
<line x1="323.8" y1="1316" x2="323.8" y2="1342" stroke="#000" stroke-width="5.2" stroke-linecap="butt"/>
<line x1="430.5" y1="1316" x2="430.5" y2="1330" stroke="#000" stroke-width="4.8" stroke-linecap="butt"/>
<line x1="537.2" y1="1316" x2="537.2" y2="1342" stroke="#000" stroke-width="5.2" stroke-linecap="butt"/>
<line x1="643.9" y1="1316" x2="643.9" y2="1330" stroke="#000" stroke-width="4.8" stroke-linecap="butt"/>
<line x1="750.6" y1="1316" x2="750.6" y2="1342" stroke="#000" stroke-width="5.2" stroke-linecap="butt"/>
<line x1="857.3" y1="1316" x2="857.3" y2="1330" stroke="#000" stroke-width="4.8" stroke-linecap="butt"/>
<line x1="964" y1="1316" x2="964" y2="1342" stroke="#000" stroke-width="5.2" stroke-linecap="butt"/>
<line x1="1070.7" y1="1316" x2="1070.7" y2="1330" stroke="#000" stroke-width="4.8" stroke-linecap="butt"/>
<line x1="1177.4" y1="1316" x2="1177.4" y2="1342" stroke="#000" stroke-width="5.2" stroke-linecap="butt"/>
<line x1="1284.1" y1="1316" x2="1284.1" y2="1330" stroke="#000" stroke-width="4.8" stroke-linecap="butt"/>
<line x1="1390.8" y1="1316" x2="1390.8" y2="1342" stroke="#000" stroke-width="5.2" stroke-linecap="butt"/>
<line x1="1497.4" y1="1316" x2="1497.4" y2="1330" stroke="#000" stroke-width="4.8" stroke-linecap="butt"/>
<line x1="1604.1" y1="1316" x2="1604.1" y2="1342" stroke="#000" stroke-width="5.2" stroke-linecap="butt"/>
<line x1="1710.8" y1="1316" x2="1710.8" y2="1330" stroke="#000" stroke-width="4.8" stroke-linecap="butt"/>
<line x1="1817.5" y1="1316" x2="1817.5" y2="1342" stroke="#000" stroke-width="5.2" stroke-linecap="butt"/>
<text x="248.2" y="1237.2" font-family='"Liberation Sans", sans-serif' font-size="58" font-weight="bold" text-anchor="end" letter-spacing="-1.5">0</text>
<text x="248.2" y="1045.9" font-family='"Liberation Sans", sans-serif' font-size="58" font-weight="bold" text-anchor="end" letter-spacing="-1.5">2</text>
<text x="248.2" y="854.5" font-family='"Liberation Sans", sans-serif' font-size="58" font-weight="bold" text-anchor="end" letter-spacing="-1.5">4</text>
<text x="248.2" y="663.2" font-family='"Liberation Sans", sans-serif' font-size="58" font-weight="bold" text-anchor="end" letter-spacing="-1.5">6</text>
<text x="248.2" y="471.8" font-family='"Liberation Sans", sans-serif' font-size="58" font-weight="bold" text-anchor="end" letter-spacing="-1.5">8</text>
<text x="248.2" y="280.5" font-family='"Liberation Sans", sans-serif' font-size="58" font-weight="bold" text-anchor="end" letter-spacing="-1.5">10</text>
<text x="248.2" y="89.2" font-family='"Liberation Sans", sans-serif' font-size="58" font-weight="bold" text-anchor="end" letter-spacing="-1.5">12</text>
<text x="323.1" y="1400" font-family='"Liberation Sans", sans-serif' font-size="58" font-weight="bold" text-anchor="middle" letter-spacing="-1.5">0</text>
<text x="536.4" y="1400" font-family='"Liberation Sans", sans-serif' font-size="58" font-weight="bold" text-anchor="middle" letter-spacing="-1.5">300</text>
<text x="749.8" y="1400" font-family='"Liberation Sans", sans-serif' font-size="58" font-weight="bold" text-anchor="middle" letter-spacing="-1.5">600</text>
<text x="963.2" y="1400" font-family='"Liberation Sans", sans-serif' font-size="58" font-weight="bold" text-anchor="middle" letter-spacing="-1.5">900</text>
<text x="1176.6" y="1400" font-family='"Liberation Sans", sans-serif' font-size="58" font-weight="bold" text-anchor="middle" letter-spacing="-1.5">1200</text>
<text x="1390" y="1400" font-family='"Liberation Sans", sans-serif' font-size="58" font-weight="bold" text-anchor="middle" letter-spacing="-1.5">1500</text>
<text x="1603.4" y="1400" font-family='"Liberation Sans", sans-serif' font-size="58" font-weight="bold" text-anchor="middle" letter-spacing="-1.5">1800</text>
<text x="1816.8" y="1400" font-family='"Liberation Sans", sans-serif' font-size="58" font-weight="bold" text-anchor="middle" letter-spacing="-1.5">2100</text>
<text x="1052.5" y="1502" font-family='"Liberation Sans", sans-serif' font-size="62" font-weight="bold" text-anchor="middle">t(s)</text>
<text transform="translate(89.9 734.4) rotate(-90)" font-family='"Liberation Sans", sans-serif' font-size="62" font-weight="bold" text-anchor="middle">E(V)</text>
</g>
<g id="legend-a">
<rect x="1331.7" y="80.8" width="525.3" height="380.5" fill="#fff" stroke="#000" stroke-width="2.2"/>
<text x="1348.3" y="141" font-family='"Liberation Sans", sans-serif' font-size="62" font-weight="bold" text-anchor="start">i=1mA</text>
<line x1="1347.7" y1="196.4" x2="1487.4" y2="196.4" stroke="#00ff00" stroke-width="9.2" stroke-linecap="round"/>
<text x="1504.5" y="218" font-family='"Liberation Sans", sans-serif' font-size="62" font-weight="bold" text-anchor="start">3:5 t=20min</text>
<line x1="1348" y1="272.9" x2="1383.3" y2="272.9" stroke="#0000ff" stroke-width="9.8" stroke-linecap="round"/>
<line x1="1430" y1="272.9" x2="1465.8" y2="272.9" stroke="#0000ff" stroke-width="9.8" stroke-linecap="round"/>
<text x="1505.5" y="295.5" font-family='"Liberation Sans", sans-serif' font-size="62" font-weight="bold" text-anchor="start">5:3</text>
<line x1="1347.9" y1="349.5" x2="1353.9" y2="349.5" stroke="#008080" stroke-width="9.6" stroke-linecap="round"/>
<line x1="1397" y1="349.5" x2="1403" y2="349.5" stroke="#008080" stroke-width="9.6" stroke-linecap="round"/>
<line x1="1446" y1="349.5" x2="1452" y2="349.5" stroke="#008080" stroke-width="9.6" stroke-linecap="round"/>
<text x="1504.5" y="371" font-family='"Liberation Sans", sans-serif' font-size="62" font-weight="normal" text-anchor="start">3:5 t=30min</text>
<line x1="1347.9" y1="426.4" x2="1379.3" y2="426.4" stroke="#ff00ff" stroke-width="9.6" stroke-linecap="round"/>
<line x1="1406.7" y1="426.4" x2="1413.1" y2="426.4" stroke="#ff00ff" stroke-width="9.6" stroke-linecap="round"/>
<line x1="1439.8" y1="426.4" x2="1446.2" y2="426.4" stroke="#ff00ff" stroke-width="9.6" stroke-linecap="round"/>
<line x1="1474" y1="426.4" x2="1487.2" y2="426.4" stroke="#ff00ff" stroke-width="9.6" stroke-linecap="round"/>
<text x="1504.5" y="448" font-family='"Liberation Sans", sans-serif' font-size="62" font-weight="normal" text-anchor="start">5:3</text>
</g>
<text y="1701.5" font-family='"Liberation Serif", serif'><tspan x="852.5" font-size="85" font-weight="normal" textLength="26" lengthAdjust="spacingAndGlyphs">(</tspan><tspan x="879.2" font-size="86" font-weight="bold" textLength="40.4" lengthAdjust="spacingAndGlyphs">a</tspan><tspan x="920.5" font-size="85" font-weight="normal" textLength="26" lengthAdjust="spacingAndGlyphs">)</tspan></text>
</g>
<g id="chart-b">
<g id="curves-b">
<line x1="299.9" y1="3073" x2="315.1" y2="3070" stroke="#0000ff" stroke-width="10" stroke-linecap="round"/>
<line x1="320.4" y1="3043.4" x2="321" y2="3037.4" stroke="#0000ff" stroke-width="10" stroke-linecap="round"/>
<line x1="325.3" y1="3006.3" x2="325.9" y2="3000.3" stroke="#0000ff" stroke-width="10" stroke-linecap="round"/>
<line x1="327.2" y1="2970" x2="329.8" y2="2942" stroke="#0000ff" stroke-width="10" stroke-linecap="round"/>
<line x1="331.4" y1="2911.3" x2="332" y2="2905.3" stroke="#0000ff" stroke-width="10" stroke-linecap="round"/>
<line x1="333.7" y1="2876.3" x2="334.3" y2="2870.3" stroke="#0000ff" stroke-width="10" stroke-linecap="round"/>
<line x1="335.3" y1="2841" x2="336.4" y2="2819" stroke="#0000ff" stroke-width="10" stroke-linecap="round"/>
<line x1="337" y1="2788" x2="337.6" y2="2782" stroke="#0000ff" stroke-width="10" stroke-linecap="round"/>
<line x1="337.7" y1="2751.3" x2="338.3" y2="2745.3" stroke="#0000ff" stroke-width="10" stroke-linecap="round"/>
<line x1="339.5" y1="2726.5" x2="340.5" y2="2695" stroke="#0000ff" stroke-width="10" stroke-linecap="round"/>
<line x1="342.4" y1="2669" x2="343" y2="2663" stroke="#0000ff" stroke-width="10" stroke-linecap="round"/>
<line x1="348" y1="2648" x2="348.6" y2="2642" stroke="#0000ff" stroke-width="10" stroke-linecap="round"/>
<path d="M360 2640.3 L413 2639.3 L483 2637.7 L520 2637.7 L560 2638.5 L600 2641.7 L626.7 2646 L656.7 2652.7 L686 2655.3 L718 2658.3 L753.4 2661.5 L800 2664 L806 2664.5 L808 2670 L810 2664.5 L860.3 2663.3 L913.7 2662.6 L967.1 2660.4 L1020.5 2657.9 L1073.9 2655.4 L1127.4 2653.3 L1186 2649.3 L1252.7 2646 L1319.3 2641.7 L1386 2637.3 L1452.7 2632.7 L1519.3 2629.3 L1586 2625 L1634.3 2622.7" fill="none" stroke="#0000ff" stroke-width="11.5" stroke-linecap="round" stroke-linejoin="round" stroke-dasharray="26.8 14.6 0.1 15.7 0.1 14.3" stroke-dashoffset="7"/>
<line x1="300" y1="3072.7" x2="305.4" y2="3071.3" stroke="#00ff00" stroke-width="13.5" stroke-linecap="round"/>
<line x1="318.8" y1="3006.4" x2="319" y2="2998" stroke="#00ff00" stroke-width="13.5" stroke-linecap="round"/>
<line x1="319.6" y1="2934.9" x2="319.6" y2="2926.5" stroke="#00ff00" stroke-width="13.5" stroke-linecap="round"/>
<line x1="320" y1="2862.5" x2="320" y2="2854.1" stroke="#00ff00" stroke-width="13.5" stroke-linecap="round"/>
<line x1="320.3" y1="2790.9" x2="320.3" y2="2782.5" stroke="#00ff00" stroke-width="13.5" stroke-linecap="round"/>
<line x1="321.2" y1="2719.2" x2="321.4" y2="2710.8" stroke="#00ff00" stroke-width="13.5" stroke-linecap="round"/>
<line x1="323.1" y1="2647.5" x2="323.5" y2="2639.1" stroke="#00ff00" stroke-width="13.5" stroke-linecap="round"/>
<line x1="326.9" y1="2576.9" x2="327.7" y2="2568.5" stroke="#00ff00" stroke-width="13.5" stroke-linecap="round"/>
<line x1="334.9" y1="2505.2" x2="335.7" y2="2496.8" stroke="#00ff00" stroke-width="13.5" stroke-linecap="round"/>
<line x1="341.6" y1="2434.2" x2="342.4" y2="2425.8" stroke="#00ff00" stroke-width="13.5" stroke-linecap="round"/>
<line x1="349.5" y1="2363.5" x2="350.5" y2="2355.1" stroke="#00ff00" stroke-width="13.5" stroke-linecap="round"/>
<line x1="359.4" y1="2292.5" x2="360.6" y2="2284.1" stroke="#00ff00" stroke-width="13.5" stroke-linecap="round"/>
<line x1="368.4" y1="2220.9" x2="369.6" y2="2212.5" stroke="#00ff00" stroke-width="13.5" stroke-linecap="round"/>
<line x1="379.1" y1="2150.2" x2="380.3" y2="2141.8" stroke="#00ff00" stroke-width="13.5" stroke-linecap="round"/>
<line x1="389.6" y1="2079.1" x2="391" y2="2070.9" stroke="#00ff00" stroke-width="13.5" stroke-linecap="round"/>
<line x1="403.3" y1="2009.8" x2="405.3" y2="2001.6" stroke="#00ff00" stroke-width="13.5" stroke-linecap="round"/>
<line x1="422.7" y1="1948" x2="425.3" y2="1940" stroke="#00ff00" stroke-width="13.5" stroke-linecap="round"/>
<line x1="442.6" y1="1887.5" x2="445.4" y2="1882.5" stroke="#00ff00" stroke-width="13.5" stroke-linecap="round"/>
<line x1="471.9" y1="1874.2" x2="474.8" y2="1869.2" stroke="#00ff00" stroke-width="13.5" stroke-linecap="round"/>
<line x1="500.1" y1="1860.2" x2="504.5" y2="1856.4" stroke="#00ff00" stroke-width="13.5" stroke-linecap="round"/>
<line x1="540.1" y1="1876.5" x2="545.3" y2="1878.9" stroke="#00ff00" stroke-width="13.5" stroke-linecap="round"/>
<line x1="571.3" y1="1891.6" x2="573.3" y2="1897" stroke="#00ff00" stroke-width="13.5" stroke-linecap="round"/>
<line x1="599.6" y1="1904.3" x2="605" y2="1902.3" stroke="#00ff00" stroke-width="13.5" stroke-linecap="round"/>
<line x1="640.4" y1="1909" x2="646.2" y2="1909" stroke="#00ff00" stroke-width="13.5" stroke-linecap="round"/>
<line x1="677.6" y1="1930" x2="682.4" y2="1933.4" stroke="#00ff00" stroke-width="13.5" stroke-linecap="round"/>
<line x1="717.3" y1="1946" x2="722.1" y2="1949.4" stroke="#00ff00" stroke-width="13.5" stroke-linecap="round"/>
<line x1="750.2" y1="1979.6" x2="754.4" y2="1983.8" stroke="#00ff00" stroke-width="13.5" stroke-linecap="round"/>
<line x1="784.2" y1="2012.8" x2="788.4" y2="2008.6" stroke="#00ff00" stroke-width="13.5" stroke-linecap="round"/>
<line x1="817.1" y1="2050.7" x2="822.9" y2="2050.7" stroke="#00ff00" stroke-width="13.5" stroke-linecap="round"/>
<line x1="858.6" y1="2068.3" x2="864" y2="2070.3" stroke="#00ff00" stroke-width="13.5" stroke-linecap="round"/>
<line x1="900.1" y1="2103.1" x2="904.5" y2="2106.9" stroke="#00ff00" stroke-width="13.5" stroke-linecap="round"/>
<line x1="951.5" y1="2135.2" x2="956.5" y2="2138.1" stroke="#00ff00" stroke-width="13.5" stroke-linecap="round"/>
<line x1="995.1" y1="2176.4" x2="997.5" y2="2181.6" stroke="#00ff00" stroke-width="13.5" stroke-linecap="round"/>
<line x1="1020.4" y1="2204.5" x2="1026.2" y2="2205.5" stroke="#00ff00" stroke-width="13.5" stroke-linecap="round"/>
<line x1="1081.1" y1="2218.1" x2="1086.3" y2="2220.5" stroke="#00ff00" stroke-width="13.5" stroke-linecap="round"/>
<line x1="1136.2" y1="2245.9" x2="1141.8" y2="2247.5" stroke="#00ff00" stroke-width="13.5" stroke-linecap="round"/>
<line x1="1187.9" y1="2267.8" x2="1193.1" y2="2270.2" stroke="#00ff00" stroke-width="13.5" stroke-linecap="round"/>
<line x1="1244.9" y1="2288.4" x2="1250.5" y2="2290.2" stroke="#00ff00" stroke-width="13.5" stroke-linecap="round"/>
<line x1="1299.9" y1="2305.1" x2="1305.5" y2="2306.9" stroke="#00ff00" stroke-width="13.5" stroke-linecap="round"/>
<line x1="1338.9" y1="2318.5" x2="1344.5" y2="2320.1" stroke="#00ff00" stroke-width="13.5" stroke-linecap="round"/>
<line x1="1404.9" y1="2336.5" x2="1410.5" y2="2338.1" stroke="#00ff00" stroke-width="13.5" stroke-linecap="round"/>
<line x1="1462.5" y1="2353.3" x2="1468.1" y2="2354.7" stroke="#00ff00" stroke-width="13.5" stroke-linecap="round"/>
<line x1="1523.2" y1="2366.7" x2="1528.8" y2="2367.9" stroke="#00ff00" stroke-width="13.5" stroke-linecap="round"/>
<line x1="1591.4" y1="2379.5" x2="1597.2" y2="2380.5" stroke="#00ff00" stroke-width="13.5" stroke-linecap="round"/>
<path d="M297.8 3061.8 L305.6 3065.6 L323.3 3060 L338.9 3051 L345.6 3044.4 L348.9 3033.3 L350 3011 L350.4 2966.7 L350.7 2913.3 L351.3 2846.7 L352 2780 L352.7 2713.3 L353.3 2680 L354 2646.7 L356 2613.3 L357.3 2586.7 L359.3 2560 L362.7 2536.7 L368.3 2513.3 L376.7 2490 L380.6 2482 L386.3 2466.4 L392.7 2449.3 L399.8 2430.8 L405.5 2413.7 L406.1 2412.1 L406.7 2410.3 L407.3 2409.6 L407.9 2408.6 L408.5 2405 L409.1 2402.7 L409.6 2404.2 L410.2 2401.5 L410.8 2399.5 L411.4 2401 L412 2398.4 L412.6 2398.1 L413.1 2395.6 L413.6 2394.4 L414.1 2391.2 L414.6 2391 L415.1 2391 L415.6 2388.6 L416.1 2387.8 L416.6 2386.3 L417.1 2382.4 L417.6 2382.8 L418.1 2381.4 L418.6 2378.8 L419.1 2375.9 L419.5 2377.3 L419.9 2375.3 L420.3 2374.7 L420.7 2374.2 L421.1 2372.4 L421.6 2371.7 L422 2368.4 L422.4 2368 L422.8 2365.5 L423.2 2365.7 L423.6 2364.6 L424 2360.1 L424.6 2357.8 L425.1 2356.4 L425.7 2358 L426.2 2355.5 L426.8 2354.5 L427.3 2351.9 L427.9 2350.9 L428.4 2349.1 L429 2347.4 L429.5 2346.8 L430.1 2345.7 L430.6 2345.7 L431.2 2343.8 L431.8 2343.3 L432.3 2341.8 L432.9 2340.9 L433.5 2338.4 L434 2334.6 L434.6 2335.1 L435.2 2334.8 L435.8 2333.5 L436.3 2330.8 L436.9 2329.4 L437.2 2326.1 L437.5 2326.4 L437.8 2324.6 L438.1 2321.9 L438.4 2319.1 L438.7 2320.4 L439 2320.5 L439.3 2316 L439.6 2316.3 L439.9 2313.9 L440.2 2311.2 L440.5 2309.8 L440.8 2310.3 L441.1 2310 L441.5 2305.6 L441.9 2305.5 L442.3 2302.2 L442.7 2302.8 L443.1 2300.6 L443.5 2301 L444 2300.7 L444.4 2297.7 L444.8 2297.7 L445.2 2294.1 L445.6 2290.9 L446 2291 L446.4 2287.8 L446.8 2286.4 L447.3 2285.8 L447.8 2285.5 L448.2 2282.7 L448.7 2280.3 L449.2 2281.8 L449.6 2279.2 L450.1 2280 L450.6 2279.1 L451.1 2275.7 L451.6 2274 L452 2272.7 L452.5 2271.8 L452.9 2270.4 L453.3 2268.8 L453.7 2267.6 L454.1 2267.5 L454.5 2264.8 L454.9 2262.6 L455.4 2262.1 L455.8 2259.1 L456.2 2257.4 L456.6 2258.5 L457 2256.2 L457.4 2254.6 L457.8 2250.9 L458.2 2250.3 L458.8 2249.9 L459.3 2246.5 L459.9 2246.8 L460.4 2246.1 L461 2242.6 L461.5 2242.7 L462.1 2241.2 L462.6 2240.6 L463.2 2238.1 L463.7 2237.8 L464.3 2236.8 L464.8 2232.7 L465.4 2230.5 L466 2231.4 L466.6 2232 L467.2 2228.5 L467.8 2227.2 L468.4 2226.4 L469 2224.2 L469.6 2222.7 L470.3 2221.2 L470.9 2220 L471.5 2219.6 L472.1 2217.4 L472.7 2216.1 L473.3 2216.4 L473.9 2212.6 L474.5 2212.6 L475.2 2212.5 L475.8 2209.9 L476.5 2207.8 L477.1 2208.5 L477.8 2205.7 L478.4 2203.6 L479.1 2203.1 L479.7 2203.1 L480.4 2199.9 L481 2198.8 L481.6 2197.5 L482.2 2198.2 L482.8 2195.9 L483.4 2195.9 L484 2192.2 L484.6 2190.7 L485.3 2190.5 L485.9 2190.5 L486.5 2187.9 L487.1 2185.1 L487.7 2182.8 L488.3 2182.8 L488.9 2180.4 L489.5 2181.2 L490.1 2180.6 L490.7 2176.9 L491.3 2175 L491.9 2175.6 L492.5 2174.2 L493.1 2173.4 L493.7 2170.4 L494.3 2167.5 L494.9 2166.2 L495.5 2166.9 L496.1 2164.1 L496.7 2163.3 L497.5 2160.9 L498.4 2157.9 L499.2 2161.2 L500 2160.7 L500.8 2158.3 L501.7 2154.6 L502.5 2152.7 L503.3 2155 L504.2 2154.8 L505 2151.1 L505.8 2151.5 L506.6 2151.8 L507.5 2149.5 L508.3 2147.3 L509.2 2145.6 L510.2 2147.1 L511.1 2144.6 L512 2145.1 L513 2144.4 L513.9 2141.2 L514.8 2139.9 L515.8 2136.1 L516.7 2138 L517.8 2133.5 L518.9 2132.7 L520 2133 L521.1 2135.6 L522.3 2132.4 L523.4 2132 L524.5 2129.6 L525.6 2128 L526.7 2130.3 L528.2 2126.4 L529.7 2129.2 L531.1 2127 L532.6 2125.9 L534.1 2124.7 L535.6 2129.4 L537 2130.1 L538.5 2126 L540 2130.3 L541.4 2128.2 L542.9 2128.6 L544.3 2126.6 L545.7 2126.7 L547.1 2126.2 L548.6 2128.1 L550 2124.2 L551.3 2125.5 L552.7 2124.8 L554 2126.8 L555.3 2125.6 L556.6 2126.3 L558 2126.7 L559.3 2129.2 L560.6 2133.5 L562 2132.5 L563.3 2131.8 L564.5 2132.5 L565.8 2132.8 L567 2133.4 L568.3 2136.8 L569.5 2136.2 L570.8 2134.9 L572 2134.6 L573.3 2139 L574.7 2135.2 L576.2 2136.8 L577.6 2136.4 L579 2137.6 L580.4 2138.5 L581.9 2134.8 L583.3 2138.1 L584.8 2139.6 L586.3 2138.6 L587.9 2138.1 L589.4 2137.3 L590.9 2138 L592.4 2139.6 L593.9 2135.1 L595.4 2138.9 L597 2134.7 L598.5 2133.8 L600 2136.7 L601.5 2134.9 L603 2136.9 L604.6 2139.9 L606.1 2135.5 L607.6 2134.2 L609.1 2134.5 L610.6 2138.8 L612.1 2139 L613.7 2137.2 L615.2 2137.5 L616.7 2140.4 L618.2 2139.9 L619.7 2136.8 L621.2 2138.5 L622.7 2139.9 L624.2 2138.9 L625.8 2145 L627.3 2141.7 L628.8 2140.7 L630.3 2141.9 L631.8 2139.1 L633.3 2142.5 L634.7 2139.1 L636.1 2142.9 L637.5 2141.9 L638.9 2144 L640.3 2145.7 L641.6 2143.2 L643 2143.4 L644.4 2142.3 L645.8 2142.3 L647.2 2144.6 L648.6 2146 L650 2151.5 L651.5 2147.5 L653 2148.5 L654.6 2145.1 L656.1 2148.7 L657.6 2149.5 L659.1 2149.1 L660.6 2148.9 L662.1 2150.8 L663.7 2151.5 L665.2 2151.6 L666.7 2150.2 L668.2 2147.1 L669.7 2147.6 L671.2 2146.6 L672.7 2146.5 L674.2 2146.8 L675.8 2148.3 L677.3 2148.9 L678.8 2147.8 L680.3 2152.7 L681.8 2152.9 L683.3 2151 L684.8 2148.8 L686.3 2153.1 L687.9 2154.6 L689.4 2151.4 L690.9 2152.4 L692.4 2155.6 L693.9 2157 L695.4 2155.8 L697 2156.1 L698.5 2156.8 L700 2154.3 L701.4 2155 L702.8 2153.8 L704.2 2155 L705.5 2155.5 L706.9 2155.6 L708.3 2157.3 L709.7 2157.6 L711.1 2157 L712.5 2158.9 L713.8 2159.8 L715.2 2160.6 L716.6 2158.8 L718 2160.7 L719.5 2159.2 L721 2160.4 L722.6 2161.8 L724.1 2160.2 L725.6 2160.2 L727.1 2162 L728.6 2161.9 L730.1 2162.4 L731.7 2160.4 L733.2 2161.5 L734.7 2162 L736.2 2163.1 L737.7 2161.3 L739.2 2161.3 L740.7 2161.9 L742.2 2161.4 L743.8 2162.8 L745.3 2163.6 L746.8 2162.7 L748.3 2163.3 L749.8 2162.9 L751.3 2162.1 L752.8 2161.7 L754.3 2163.7 L755.9 2165.2 L757.4 2165.9 L758.9 2165.3 L760.4 2164.5 L761.9 2165.4 L763.4 2164.8 L765 2164.5 L766.5 2165.5 L768 2165.2 L769.4 2164.5 L770.8 2164.4 L772.2 2165.3 L773.6 2166.2 L775 2166.2 L776.4 2168.3 L777.7 2167.5 L779.1 2168.1 L780.5 2168.3 L781.9 2169.9 L783.3 2170.3 L784.7 2171.5 L786 2171.5 L787.4 2171.2 L788.7 2172.7 L790 2174.8 L791.4 2171.7 L792.7 2174 L794 2175.1 L795.4 2176.5 L796.7 2174.8 L798 2177.3 L799.4 2177 L800.7 2178.4 L802 2178.3 L803.4 2178.4 L804.7 2179.6 L806.2 2178.5 L807.8 2178.1 L809.3 2179.7 L810.9 2181.2 L812.4 2181.2 L813.9 2181.8 L815.5 2181.4 L817 2182.3 L818.5 2181.3 L820.1 2182.2 L821.6 2183 L823.2 2181.9 L824.7 2181.7 L826.1 2182.7 L827.6 2183.5 L829 2182.5 L830.4 2181.8 L831.8 2182.4 L833.3 2183.2 L834.7 2182.6 L836.1 2184.9 L837.6 2185.2 L839 2184.4 L840.4 2184 L841.8 2186.2 L843.3 2187 L844.7 2185.7 L846.1 2185.7 L847.5 2187.2 L848.9 2186.9 L850.2 2188.4 L851.6 2189.4 L853 2189.3 L854.4 2190.5 L855.8 2190.3 L857.1 2191.5 L858.5 2191.9 L859.9 2192.1 L861.3 2193.3 L862.8 2193.6 L864.2 2193.1 L865.7 2193.3 L867.1 2195.1 L868.6 2194.8 L870.1 2194.7 L871.5 2193.9 L873 2195.5 L874.5 2195.1 L875.9 2193.3 L877.4 2194.9 L878.9 2195.4 L880.3 2194.6 L881.8 2194.9 L883.2 2194.1 L884.7 2196 L886.1 2195.7 L887.6 2197.1 L889 2197.3 L890.4 2196.1 L891.8 2195.7 L893.3 2198 L894.7 2199.1 L896.1 2198.5 L897.6 2198.3 L899 2200.3 L900.4 2199.6 L901.8 2199.8 L903.3 2201.6 L904.7 2202.5 L906.1 2203.3 L907.6 2203.3 L909 2203 L910.4 2204.9 L911.8 2205.8 L913.3 2204.9 L914.7 2203.8 L916.1 2203.6 L917.6 2203.8 L919 2204.4 L920.4 2205.5 L921.8 2206.6 L923.3 2209 L924.7 2209 L926.1 2209.5 L927.6 2208.9 L929 2210.9 L930.4 2210.7 L931.8 2211.3 L933.3 2212.6 L934.7 2211.4 L936.1 2212.3 L937.6 2213.2 L939 2214.7 L940.4 2215.7 L941.8 2214.3 L943.3 2216.4 L944.7 2215.8 L946 2215.5 L947.4 2218 L948.7 2216.7 L950 2217 L951.4 2219.5 L952.7 2218.8 L954 2219.1 L955.4 2221.8 L956.7 2223.5 L958 2224 L959.4 2223.4 L960.7 2225 L962 2226.1 L963.4 2226.7 L964.7 2225.4 L966.1 2226.7 L967.6 2226.2 L969 2226.3 L970.4 2228.7 L971.8 2230.5 L973.3 2229 L974.7 2228.9 L976.1 2231.6 L977.6 2230.7 L979 2232.8 L980.4 2232.7 L981.8 2233.5 L983.3 2234.8 L984.7 2235.4 L986.1 2235.6 L987.6 2238.7 L989 2234.3 L990.4 2235.7 L991.8 2236 L993.3 2236.8 L994.7 2236.6 L996.1 2237.6 L997.6 2237.7 L999 2239 L1000.4 2238.5 L1001.8 2241.1 L1003.3 2241.2 L1004.7 2243.2 L1006.1 2243.3 L1007.6 2241.9 L1009 2243.6 L1010.4 2245.4 L1011.8 2244.8 L1013.3 2245.2 L1014.7 2245.7 L1016.1 2246 L1017.6 2247.2 L1019 2248.1 L1020.4 2252.1 L1021.8 2248.4 L1023.3 2247.8 L1024.7 2247.5 L1026.1 2248.6 L1027.6 2248.6 L1029 2250.9 L1030.4 2250.6 L1031.8 2251.9 L1033.3 2253.6 L1034.7 2252.4 L1036.1 2254.6 L1037.6 2254.1 L1039 2254.2 L1040.4 2253.7 L1041.8 2255.4 L1043.3 2256.4 L1044.7 2257.2 L1046.1 2257.4 L1047.6 2258.9 L1049 2258.1 L1050.4 2258.4 L1051.8 2259 L1053.3 2260.2 L1054.7 2259.8 L1056.1 2261.5 L1057.6 2262.6 L1059 2261.5 L1060.4 2262.7 L1061.8 2262.6 L1063.3 2262.5 L1064.7 2263.8 L1066.1 2265.2 L1067.6 2266.3 L1069 2265.6 L1070.4 2267 L1071.8 2266.2 L1073.3 2265.6 L1074.7 2268.1 L1076.1 2268.9 L1077.6 2269.7 L1079 2267.9 L1080.4 2267.6 L1081.8 2268.5 L1083.3 2268.1 L1084.7 2268.5 L1086.1 2268.6 L1087.6 2269.3 L1089 2270.3 L1090.4 2271.5 L1091.8 2271.3 L1093.3 2271 L1094.7 2271 L1096.1 2271.2 L1097.6 2272.2 L1099 2273.7 L1100.4 2274.2 L1101.8 2275.6 L1103.3 2274.8 L1104.7 2275.3 L1106.1 2275.9 L1107.6 2275.5 L1109 2275.3 L1110.4 2275.8 L1111.8 2277.2 L1113.3 2278.5 L1114.7 2278.2 L1116.1 2278.4 L1117.6 2277.2 L1119 2277.2 L1120.4 2279 L1121.8 2278.8 L1123.3 2281 L1124.7 2281.6 L1126.1 2280.9 L1127.6 2281.3 L1129 2282.7 L1130.4 2281.6 L1131.8 2283.1 L1133.3 2281.3 L1134.7 2281.1 L1136.1 2282.8 L1137.6 2283.3 L1139 2283.9 L1140.4 2285 L1141.8 2285.5 L1143.3 2286.4 L1144.7 2285.4 L1146.1 2286.5 L1147.6 2284.6 L1149 2284.1 L1150.4 2284.2 L1151.8 2286 L1153.3 2288 L1154.7 2286.7 L1156.1 2286.1 L1157.6 2286.5 L1159 2287.4 L1160.4 2287.7 L1161.8 2289.2 L1163.3 2288.5 L1164.7 2290.1 L1166.2 2290 L1167.6 2291.7 L1169.1 2292.4 L1170.5 2292 L1172 2293 L1173.5 2291.1 L1174.9 2292.5 L1176.4 2291.9 L1177.8 2291.6 L1179.3 2293 L1180.7 2294.3 L1182.2 2295.3 L1183.7 2293.7 L1185.1 2295 L1186.6 2295.9 L1188 2295 L1189.5 2296.5" fill="none" stroke="#ff00ff" stroke-width="11.6" stroke-linecap="round" stroke-linejoin="round"/>
<line x1="298.3" y1="2876.2" x2="298.3" y2="2845.5" stroke="#008080" stroke-width="11" stroke-linecap="round"/>
<line x1="298.4" y1="2786.2" x2="299.2" y2="2755.5" stroke="#008080" stroke-width="11" stroke-linecap="round"/>
<line x1="300.1" y1="2696.2" x2="300.9" y2="2665.5" stroke="#008080" stroke-width="11" stroke-linecap="round"/>
<line x1="303.3" y1="2605.2" x2="306.7" y2="2576.2" stroke="#008080" stroke-width="11" stroke-linecap="round"/>
<line x1="322.1" y1="2538.5" x2="329.6" y2="2537.5" stroke="#008080" stroke-width="11" stroke-linecap="round"/>
<path d="M351.5 2551.6 L375.8 2571" fill="none" stroke="#008080" stroke-width="11" stroke-linecap="round" stroke-linejoin="round"/>
<path d="M393.6 2584.2 L406.8 2593.9" fill="none" stroke="#008080" stroke-width="11" stroke-linecap="round" stroke-linejoin="round"/>
<path d="M426.3 2604 L446.7 2614.2" fill="none" stroke="#008080" stroke-width="11" stroke-linecap="round" stroke-linejoin="round"/>
<path d="M466.3 2620.3 L478.8 2623.9" fill="none" stroke="#008080" stroke-width="11" stroke-linecap="round" stroke-linejoin="round"/>
<path d="M498.3 2628 L514.7 2631.3" fill="none" stroke="#008080" stroke-width="11" stroke-linecap="round" stroke-linejoin="round"/>
<path d="M534.2 2634 L546.7 2635.6" fill="none" stroke="#008080" stroke-width="11" stroke-linecap="round" stroke-linejoin="round"/>
<path d="M567.3 2637.5 L585.6 2639.1" fill="none" stroke="#008080" stroke-width="11" stroke-linecap="round" stroke-linejoin="round"/>
<path d="M604.7 2641.7 L618.3 2643.7" fill="none" stroke="#008080" stroke-width="11" stroke-linecap="round" stroke-linejoin="round"/>
<path d="M639.1 2645 L656.5 2645.9" fill="none" stroke="#008080" stroke-width="11" stroke-linecap="round" stroke-linejoin="round"/>
<path d="M676.5 2646.4 L689.5 2646.7" fill="none" stroke="#008080" stroke-width="11" stroke-linecap="round" stroke-linejoin="round"/>
<path d="M707.1 2648 L753.4 2648 L790.8 2648 L826.4 2648 L862 2646.5 L898.4 2645.5 L935 2643.7 L971.4 2641.2 L1006.3 2638.3 L1040.8 2635.5 L1077.5 2633 L1114.2 2629.4 L1151.6 2626.6 L1189.3 2623.3" fill="none" stroke="#008080" stroke-width="10.8" stroke-linecap="round" stroke-linejoin="round" stroke-dasharray="15 21" stroke-dashoffset="31.4"/>
</g>
<g id="axes-b">
<line x1="260.6" y1="1814" x2="260.6" y2="3180.9" stroke="#000" stroke-width="5.8" stroke-linecap="butt"/>
<line x1="245" y1="3178" x2="1861.2" y2="3178" stroke="#000" stroke-width="5.8" stroke-linecap="butt"/>
<line x1="233.3" y1="3074" x2="260.6" y2="3074" stroke="#000" stroke-width="6" stroke-linecap="butt"/>
<line x1="245.1" y1="2969.2" x2="260.6" y2="2969.2" stroke="#000" stroke-width="5.6" stroke-linecap="butt"/>
<line x1="233.3" y1="2864.5" x2="260.6" y2="2864.5" stroke="#000" stroke-width="6" stroke-linecap="butt"/>
<line x1="245.1" y1="2759.8" x2="260.6" y2="2759.8" stroke="#000" stroke-width="5.6" stroke-linecap="butt"/>
<line x1="233.3" y1="2655" x2="260.6" y2="2655" stroke="#000" stroke-width="6" stroke-linecap="butt"/>
<line x1="245.1" y1="2550.2" x2="260.6" y2="2550.2" stroke="#000" stroke-width="5.6" stroke-linecap="butt"/>
<line x1="233.3" y1="2445.5" x2="260.6" y2="2445.5" stroke="#000" stroke-width="6" stroke-linecap="butt"/>
<line x1="245.1" y1="2340.8" x2="260.6" y2="2340.8" stroke="#000" stroke-width="5.6" stroke-linecap="butt"/>
<line x1="233.3" y1="2236" x2="260.6" y2="2236" stroke="#000" stroke-width="6" stroke-linecap="butt"/>
<line x1="245.1" y1="2131.2" x2="260.6" y2="2131.2" stroke="#000" stroke-width="5.6" stroke-linecap="butt"/>
<line x1="233.3" y1="2026.5" x2="260.6" y2="2026.5" stroke="#000" stroke-width="6" stroke-linecap="butt"/>
<line x1="245.1" y1="1921.8" x2="260.6" y2="1921.8" stroke="#000" stroke-width="5.6" stroke-linecap="butt"/>
<line x1="233.3" y1="1817" x2="260.6" y2="1817" stroke="#000" stroke-width="6" stroke-linecap="butt"/>
<line x1="297.4" y1="3178" x2="297.4" y2="3206.5" stroke="#000" stroke-width="5" stroke-linecap="butt"/>
<line x1="408.9" y1="3178" x2="408.9" y2="3193.3" stroke="#000" stroke-width="4.8" stroke-linecap="butt"/>
<line x1="520.4" y1="3178" x2="520.4" y2="3206.5" stroke="#000" stroke-width="5" stroke-linecap="butt"/>
<line x1="631.9" y1="3178" x2="631.9" y2="3193.3" stroke="#000" stroke-width="4.8" stroke-linecap="butt"/>
<line x1="743.4" y1="3178" x2="743.4" y2="3206.5" stroke="#000" stroke-width="5" stroke-linecap="butt"/>
<line x1="854.9" y1="3178" x2="854.9" y2="3193.3" stroke="#000" stroke-width="4.8" stroke-linecap="butt"/>
<line x1="966.4" y1="3178" x2="966.4" y2="3206.5" stroke="#000" stroke-width="5" stroke-linecap="butt"/>
<line x1="1077.9" y1="3178" x2="1077.9" y2="3193.3" stroke="#000" stroke-width="4.8" stroke-linecap="butt"/>
<line x1="1189.4" y1="3178" x2="1189.4" y2="3206.5" stroke="#000" stroke-width="5" stroke-linecap="butt"/>
<line x1="1300.9" y1="3178" x2="1300.9" y2="3193.3" stroke="#000" stroke-width="4.8" stroke-linecap="butt"/>
<line x1="1412.3" y1="3178" x2="1412.3" y2="3206.5" stroke="#000" stroke-width="5" stroke-linecap="butt"/>
<line x1="1523.8" y1="3178" x2="1523.8" y2="3193.3" stroke="#000" stroke-width="4.8" stroke-linecap="butt"/>
<line x1="1635.3" y1="3178" x2="1635.3" y2="3206.5" stroke="#000" stroke-width="5" stroke-linecap="butt"/>
<line x1="1746.8" y1="3178" x2="1746.8" y2="3193.3" stroke="#000" stroke-width="4.8" stroke-linecap="butt"/>
<line x1="1858.3" y1="3178" x2="1858.3" y2="3206.5" stroke="#000" stroke-width="5" stroke-linecap="butt"/>
<text transform="translate(217.6 3093.2) scale(1 1.070)" font-family='"Liberation Sans", sans-serif' font-size="60.6" font-weight="bold" text-anchor="end" letter-spacing="-1.5">0</text>
<text transform="translate(217.6 2883.7) scale(1 1.070)" font-family='"Liberation Sans", sans-serif' font-size="60.6" font-weight="bold" text-anchor="end" letter-spacing="-1.5">1</text>
<text transform="translate(217.6 2674.2) scale(1 1.070)" font-family='"Liberation Sans", sans-serif' font-size="60.6" font-weight="bold" text-anchor="end" letter-spacing="-1.5">2</text>
<text transform="translate(217.6 2464.7) scale(1 1.070)" font-family='"Liberation Sans", sans-serif' font-size="60.6" font-weight="bold" text-anchor="end" letter-spacing="-1.5">3</text>
<text transform="translate(217.6 2255.2) scale(1 1.070)" font-family='"Liberation Sans", sans-serif' font-size="60.6" font-weight="bold" text-anchor="end" letter-spacing="-1.5">4</text>
<text transform="translate(217.6 2045.7) scale(1 1.070)" font-family='"Liberation Sans", sans-serif' font-size="60.6" font-weight="bold" text-anchor="end" letter-spacing="-1.5">5</text>
<text transform="translate(217.6 1836.2) scale(1 1.070)" font-family='"Liberation Sans", sans-serif' font-size="60.6" font-weight="bold" text-anchor="end" letter-spacing="-1.5">6</text>
<text transform="translate(296.6 3271.2) scale(1 1.070)" font-family='"Liberation Sans", sans-serif' font-size="60.6" font-weight="bold" text-anchor="middle" letter-spacing="-1.5">0</text>
<text transform="translate(519.6 3271.2) scale(1 1.070)" font-family='"Liberation Sans", sans-serif' font-size="60.6" font-weight="bold" text-anchor="middle" letter-spacing="-1.5">300</text>
<text transform="translate(742.6 3271.2) scale(1 1.070)" font-family='"Liberation Sans", sans-serif' font-size="60.6" font-weight="bold" text-anchor="middle" letter-spacing="-1.5">600</text>
<text transform="translate(965.6 3271.2) scale(1 1.070)" font-family='"Liberation Sans", sans-serif' font-size="60.6" font-weight="bold" text-anchor="middle" letter-spacing="-1.5">900</text>
<text transform="translate(1188.6 3271.2) scale(1 1.070)" font-family='"Liberation Sans", sans-serif' font-size="60.6" font-weight="bold" text-anchor="middle" letter-spacing="-1.5">1200</text>
<text transform="translate(1411.6 3271.2) scale(1 1.070)" font-family='"Liberation Sans", sans-serif' font-size="60.6" font-weight="bold" text-anchor="middle" letter-spacing="-1.5">1500</text>
<text transform="translate(1634.6 3271.2) scale(1 1.070)" font-family='"Liberation Sans", sans-serif' font-size="60.6" font-weight="bold" text-anchor="middle" letter-spacing="-1.5">1800</text>
<text transform="translate(1857.6 3271.2) scale(1 1.070)" font-family='"Liberation Sans", sans-serif' font-size="60.6" font-weight="bold" text-anchor="middle" letter-spacing="-1.5">2100</text>
<text transform="translate(1059 3382) scale(1 1.060)" font-family='"Liberation Sans", sans-serif' font-size="65" font-weight="bold" text-anchor="middle">t(s)</text>
<text transform="translate(88 2536.4) rotate(-90)" font-family='"Liberation Sans", sans-serif' font-size="67.5" font-weight="bold" text-anchor="middle">E(V)</text>
</g>
<g id="legend-b">
<rect x="1371" y="1784.1" width="571.4" height="511.2" fill="#fff" stroke="#000" stroke-width="2.4"/>
<text transform="translate(1403.8 1862.3) scale(1 1.060)" font-family='"Liberation Sans", sans-serif' font-size="65" font-weight="bold" text-anchor="start">i=0.5mA</text>
<line x1="1404.2" y1="1922.6" x2="1549.6" y2="1922.6" stroke="#ff00ff" stroke-width="11" stroke-linecap="round"/>
<text transform="translate(1569 1946) scale(1 1.050)" font-family='"Liberation Sans", sans-serif' font-size="65" font-weight="bold" text-anchor="start">3:5 t=20min</text>
<line x1="1404.2" y1="2005.5" x2="1440.7" y2="2005.5" stroke="#008080" stroke-width="11" stroke-linecap="round"/>
<line x1="1490.1" y1="2005.5" x2="1526.6" y2="2005.5" stroke="#008080" stroke-width="11" stroke-linecap="round"/>
<text transform="translate(1569.5 2030) scale(1 1.050)" font-family='"Liberation Sans", sans-serif' font-size="65" font-weight="bold" text-anchor="start">5:3</text>
<line x1="1404.9" y1="2089.8" x2="1411.9" y2="2089.8" stroke="#00ff00" stroke-width="15" stroke-linecap="round"/>
<line x1="1473.3" y1="2089.8" x2="1479.7" y2="2089.8" stroke="#00ff00" stroke-width="15" stroke-linecap="round"/>
<line x1="1541.3" y1="2089.8" x2="1548.7" y2="2089.8" stroke="#00ff00" stroke-width="15" stroke-linecap="round"/>
<text transform="translate(1569 2114) scale(1 1.050)" font-family='"Liberation Sans", sans-serif' font-size="65" font-weight="bold" text-anchor="start">3:5 t=30min</text>
<line x1="1404.4" y1="2173.5" x2="1436.6" y2="2173.5" stroke="#0000ff" stroke-width="11.3" stroke-linecap="round"/>
<line x1="1466.4" y1="2173.5" x2="1471.4" y2="2173.5" stroke="#0000ff" stroke-width="11.3" stroke-linecap="round"/>
<line x1="1501.6" y1="2173.5" x2="1506.3" y2="2173.5" stroke="#0000ff" stroke-width="11.3" stroke-linecap="round"/>
<line x1="1536.2" y1="2173.5" x2="1549.4" y2="2173.5" stroke="#0000ff" stroke-width="11.3" stroke-linecap="round"/>
<text transform="translate(1569.5 2197.5) scale(1 1.050)" font-family='"Liberation Sans", sans-serif' font-size="65" font-weight="bold" text-anchor="start">5:3</text>
</g>
<text y="3590.3" font-family='"Liberation Serif", serif'><tspan x="847.8" font-size="85" font-weight="normal" textLength="26" lengthAdjust="spacingAndGlyphs">(</tspan><tspan x="874.3" font-size="86" font-weight="bold" textLength="50.2" lengthAdjust="spacingAndGlyphs">b</tspan><tspan x="925.4" font-size="85" font-weight="normal" textLength="26" lengthAdjust="spacingAndGlyphs">)</tspan></text>
</g>
</svg>
</body></html>
